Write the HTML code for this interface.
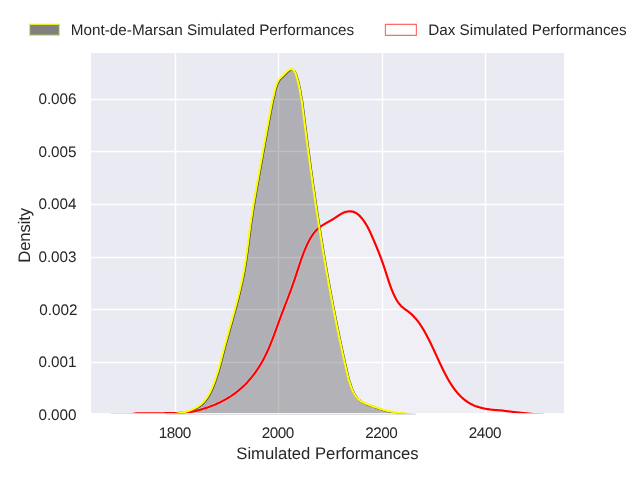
<!DOCTYPE html>
<html><head><meta charset="utf-8"><title>KDE</title>
<style>
html,body{margin:0;padding:0;background:#fff;}
body{width:640px;height:480px;overflow:hidden;}
svg{display:block;will-change:transform;}
text{font-family:"Liberation Sans",sans-serif;fill:#262626;text-rendering:geometricPrecision;}
.t11{font-size:15.28px;}
.t12{font-size:16.67px;}
</style></head>
<body>
<svg width="640" height="480" viewBox="0 0 640 480">
<defs>
<clipPath id="ax"><rect x="91" y="53" width="473" height="360"/></clipPath>
<clipPath id="axl"><rect x="91" y="53" width="473" height="360.15"/></clipPath>
</defs>
<rect x="0" y="0" width="640" height="480" fill="#ffffff"/>
<rect x="91" y="53" width="473" height="360" fill="#eaeaf2"/>
<g stroke="#ffffff" stroke-width="1.39"><line x1="175.5" y1="53" x2="175.5" y2="413"/><line x1="278.5" y1="53" x2="278.5" y2="413"/><line x1="382.5" y1="53" x2="382.5" y2="413"/><line x1="485.5" y1="53" x2="485.5" y2="413"/><line x1="91" y1="99.5" x2="564" y2="99.5"/><line x1="91" y1="151.5" x2="564" y2="151.5"/><line x1="91" y1="204.5" x2="564" y2="204.5"/><line x1="91" y1="257.5" x2="564" y2="257.5"/><line x1="91" y1="309.5" x2="564" y2="309.5"/><line x1="91" y1="362.5" x2="564" y2="362.5"/></g>
<line x1="166.3" y1="413.5" x2="416" y2="413.5" stroke="#f7f7ec" stroke-width="1"/>
<line x1="166.6" y1="414.45" x2="416" y2="414.45" stroke="#dedede" stroke-width="1"/>
<line x1="111" y1="413.5" x2="131" y2="413.5" stroke="#ffe0e0" stroke-width="1"/>
<line x1="528" y1="413.5" x2="544" y2="413.5" stroke="#ffe0e0" stroke-width="1"/>
<g clip-path="url(#ax)">
<path d="M111.00,414.90 L111.70,414.90 L112.40,414.90 L113.10,414.90 L113.80,414.90 L114.50,414.90 L115.20,414.90 L115.90,414.90 L116.60,414.90 L117.30,414.90 L118.00,414.90 L118.70,414.90 L119.40,414.90 L120.10,414.90 L120.80,414.90 L121.50,414.90 L122.20,414.89 L122.90,414.89 L123.60,414.89 L124.30,414.88 L125.00,414.87 L125.70,414.86 L126.40,414.85 L127.10,414.84 L127.80,414.83 L128.50,414.81 L129.20,414.79 L129.90,414.70 L130.58,414.54 L131.26,414.34 L131.93,414.15 L132.61,413.98 L133.29,413.85 L133.98,413.74 L134.67,413.63 L135.36,413.53 L136.06,413.46 L136.76,413.41 L137.45,413.39 L138.15,413.37 L138.85,413.36 L139.55,413.35 L140.25,413.34 L140.95,413.33 L141.65,413.32 L142.35,413.32 L143.05,413.31 L143.75,413.31 L144.45,413.30 L145.15,413.30 L145.85,413.30 L146.55,413.29 L147.25,413.29 L147.95,413.29 L148.65,413.28 L149.35,413.28 L150.05,413.28 L150.75,413.28 L151.45,413.28 L152.15,413.27 L152.85,413.27 L153.55,413.27 L154.25,413.27 L154.95,413.27 L155.65,413.27 L156.35,413.26 L157.05,413.26 L157.75,413.26 L158.45,413.26 L159.15,413.25 L159.85,413.25 L160.55,413.25 L161.25,413.24 L161.95,413.24 L162.65,413.24 L163.35,413.23 L164.05,413.23 L164.75,413.22 L165.45,413.22 L166.15,413.21 L166.85,413.21 L167.55,413.20 L168.25,413.19 L168.95,413.18 L169.65,413.18 L170.35,413.17 L171.05,413.16 L171.75,413.15 L172.45,413.14 L173.15,413.13 L173.85,413.12 L174.55,413.11 L175.25,413.10 L175.95,413.08 L176.65,413.05 L177.35,413.02 L178.05,412.99 L178.75,412.95 L179.45,412.91 L180.15,412.87 L180.85,412.82 L181.54,412.77 L182.24,412.72 L182.94,412.66 L183.64,412.61 L184.34,412.55 L185.03,412.50 L185.73,412.44 L186.43,412.38 L187.13,412.32 L187.82,412.26 L188.52,412.19 L189.22,412.11 L189.91,412.03 L190.61,411.95 L191.30,411.85 L192.00,411.75 L192.69,411.64 L193.37,411.48 L194.05,411.32 L194.74,411.17 L195.42,411.00 L196.10,410.84 L196.78,410.67 L197.46,410.50 L198.13,410.32 L198.81,410.14 L199.49,409.96 L200.16,409.77 L200.84,409.58 L201.51,409.39 L202.18,409.19 L202.85,408.99 L203.52,408.78 L204.19,408.57 L204.86,408.36 L205.52,408.14 L206.19,407.92 L206.85,407.70 L207.52,407.47 L208.18,407.24 L208.84,407.01 L209.50,406.77 L210.15,406.52 L210.81,406.28 L211.46,406.03 L212.12,405.77 L212.77,405.51 L213.42,405.25 L214.07,404.98 L214.71,404.71 L215.36,404.44 L216.00,404.16 L216.64,403.88 L217.28,403.59 L217.92,403.30 L218.55,403.00 L219.19,402.70 L219.82,402.40 L220.45,402.09 L221.08,401.78 L221.70,401.46 L222.33,401.14 L222.95,400.82 L223.57,400.49 L224.18,400.15 L224.80,399.82 L225.41,399.47 L226.02,399.13 L226.63,398.78 L227.23,398.42 L227.83,398.06 L228.43,397.70 L229.03,397.33 L229.62,396.95 L230.21,396.58 L230.80,396.19 L231.39,395.81 L231.97,395.41 L232.55,395.02 L233.12,394.62 L233.70,394.21 L234.27,393.80 L234.83,393.39 L235.40,392.97 L235.96,392.55 L236.51,392.12 L237.07,391.69 L237.62,391.25 L238.16,390.81 L238.70,390.36 L239.24,389.91 L239.78,389.46 L240.31,389.00 L240.84,388.53 L241.36,388.07 L241.88,387.59 L242.40,387.12 L242.91,386.64 L243.42,386.16 L243.93,385.67 L244.43,385.18 L244.93,384.68 L245.42,384.18 L245.91,383.68 L246.40,383.17 L246.88,382.66 L247.36,382.15 L247.84,381.63 L248.31,381.11 L248.78,380.59 L249.24,380.06 L249.70,379.53 L250.16,379.00 L250.61,378.46 L251.06,377.92 L251.51,377.38 L251.95,376.84 L252.39,376.29 L252.83,375.74 L253.26,375.18 L253.69,374.62 L254.11,374.06 L254.53,373.50 L254.95,372.93 L255.36,372.37 L255.77,371.79 L256.17,371.22 L256.58,370.64 L256.98,370.07 L257.37,369.48 L257.76,368.90 L258.15,368.31 L258.53,367.72 L258.91,367.13 L259.29,366.54 L259.66,365.94 L260.03,365.34 L260.39,364.74 L260.76,364.14 L261.11,363.54 L261.47,362.93 L261.82,362.32 L262.17,361.71 L262.51,361.09 L262.85,360.48 L263.19,359.86 L263.52,359.24 L263.85,358.62 L264.17,358.00 L264.49,357.37 L264.81,356.74 L265.13,356.12 L265.44,355.49 L265.75,354.85 L266.06,354.22 L266.36,353.59 L266.66,352.95 L266.96,352.31 L267.25,351.68 L267.54,351.04 L267.83,350.40 L268.12,349.76 L268.40,349.11 L268.68,348.47 L268.96,347.82 L269.24,347.18 L269.51,346.53 L269.78,345.88 L270.05,345.23 L270.32,344.59 L270.58,343.94 L270.85,343.28 L271.11,342.63 L271.37,341.98 L271.63,341.33 L271.88,340.68 L272.14,340.02 L272.39,339.37 L272.64,338.71 L272.89,338.06 L273.14,337.40 L273.39,336.75 L273.64,336.09 L273.88,335.43 L274.13,334.77 L274.37,334.12 L274.61,333.46 L274.85,332.80 L275.10,332.14 L275.34,331.49 L275.58,330.83 L275.82,330.17 L276.05,329.51 L276.29,328.85 L276.53,328.19 L276.77,327.54 L277.01,326.88 L277.24,326.22 L277.48,325.56 L277.72,324.90 L277.96,324.24 L278.20,323.59 L278.43,322.93 L278.67,322.27 L278.91,321.61 L279.15,320.96 L279.39,320.30 L279.63,319.64 L279.87,318.99 L280.12,318.33 L280.36,317.68 L280.60,317.02 L280.85,316.36 L281.09,315.71 L281.34,315.06 L281.59,314.40 L281.83,313.75 L282.08,313.09 L282.33,312.44 L282.58,311.78 L282.83,311.13 L283.08,310.48 L283.33,309.82 L283.58,309.17 L283.83,308.52 L284.08,307.86 L284.33,307.21 L284.58,306.56 L284.83,305.90 L285.08,305.25 L285.33,304.60 L285.58,303.94 L285.83,303.29 L286.09,302.64 L286.34,301.98 L286.59,301.33 L286.84,300.68 L287.09,300.02 L287.34,299.37 L287.59,298.71 L287.84,298.06 L288.09,297.41 L288.34,296.75 L288.59,296.10 L288.84,295.44 L289.08,294.79 L289.33,294.13 L289.58,293.47 L289.82,292.82 L290.07,292.16 L290.31,291.50 L290.56,290.85 L290.80,290.19 L291.04,289.53 L291.28,288.87 L291.52,288.21 L291.76,287.56 L292.00,286.90 L292.24,286.24 L292.47,285.58 L292.71,284.92 L292.94,284.25 L293.18,283.59 L293.41,282.93 L293.64,282.27 L293.87,281.60 L294.09,280.94 L294.32,280.28 L294.55,279.61 L294.77,278.95 L294.99,278.28 L295.21,277.62 L295.43,276.95 L295.65,276.29 L295.87,275.62 L296.09,274.95 L296.31,274.29 L296.52,273.62 L296.74,272.95 L296.95,272.29 L297.17,271.62 L297.39,270.96 L297.60,270.29 L297.82,269.62 L298.03,268.96 L298.25,268.29 L298.47,267.63 L298.68,266.96 L298.90,266.30 L299.12,265.64 L299.34,264.97 L299.56,264.31 L299.78,263.65 L300.00,262.98 L300.22,262.32 L300.45,261.66 L300.67,261.00 L300.90,260.34 L301.13,259.68 L301.36,259.02 L301.59,258.36 L301.83,257.70 L302.06,257.05 L302.30,256.39 L302.54,255.74 L302.78,255.08 L303.03,254.43 L303.27,253.78 L303.52,253.13 L303.77,252.48 L304.03,251.83 L304.29,251.18 L304.55,250.53 L304.81,249.89 L305.08,249.25 L305.35,248.60 L305.62,247.96 L305.89,247.32 L306.17,246.68 L306.46,246.05 L306.74,245.41 L307.03,244.78 L307.33,244.15 L307.62,243.52 L307.93,242.90 L308.24,242.27 L308.55,241.65 L308.87,241.04 L309.20,240.42 L309.53,239.81 L309.87,239.21 L310.21,238.61 L310.56,238.01 L310.92,237.41 L311.29,236.82 L311.66,236.24 L312.04,235.66 L312.43,235.09 L312.83,234.52 L313.24,233.96 L313.66,233.41 L314.08,232.86 L314.52,232.32 L314.96,231.79 L315.42,231.27 L315.88,230.75 L316.36,230.25 L316.85,229.75 L317.34,229.27 L317.85,228.80 L318.37,228.34 L318.90,227.89 L319.43,227.45 L319.98,227.02 L320.54,226.61 L321.11,226.21 L321.68,225.81 L322.26,225.43 L322.85,225.05 L323.44,224.68 L324.04,224.32 L324.64,223.96 L325.24,223.61 L325.85,223.27 L326.46,222.92 L327.07,222.58 L327.68,222.24 L328.29,221.90 L328.90,221.56 L329.51,221.21 L330.12,220.87 L330.73,220.52 L331.34,220.17 L331.94,219.82 L332.55,219.46 L333.15,219.09 L333.74,218.72 L334.33,218.34 L334.92,217.95 L335.50,217.56 L336.08,217.17 L336.66,216.77 L337.24,216.38 L337.81,215.98 L338.39,215.59 L338.98,215.21 L339.56,214.83 L340.16,214.47 L340.75,214.11 L341.36,213.77 L341.97,213.44 L342.59,213.13 L343.23,212.84 L343.87,212.57 L344.52,212.32 L345.18,212.10 L345.84,211.90 L346.52,211.73 L347.20,211.59 L347.89,211.48 L348.58,211.40 L349.28,211.35 L349.98,211.34 L350.68,211.36 L351.38,211.43 L352.07,211.54 L352.76,211.68 L353.44,211.88 L354.11,212.11 L354.76,212.38 L355.40,212.70 L356.02,213.04 L356.62,213.41 L357.21,213.81 L357.77,214.23 L358.33,214.68 L358.87,215.14 L359.39,215.62 L359.90,216.12 L360.39,216.62 L360.87,217.14 L361.34,217.67 L361.80,218.21 L362.24,218.76 L362.68,219.32 L363.11,219.88 L363.52,220.45 L363.93,221.03 L364.33,221.61 L364.72,222.20 L365.11,222.79 L365.49,223.39 L365.86,223.99 L366.22,224.59 L366.58,225.20 L366.93,225.81 L367.27,226.43 L367.61,227.04 L367.94,227.67 L368.27,228.29 L368.59,228.92 L368.91,229.55 L369.22,230.18 L369.53,230.81 L369.83,231.45 L370.13,232.09 L370.42,232.73 L370.71,233.37 L371.00,234.01 L371.29,234.65 L371.57,235.29 L371.85,235.93 L372.13,236.58 L372.41,237.22 L372.69,237.86 L372.97,238.50 L373.25,239.15 L373.52,239.79 L373.80,240.43 L374.07,241.08 L374.35,241.72 L374.62,242.37 L374.90,243.01 L375.17,243.66 L375.44,244.30 L375.71,244.95 L375.98,245.60 L376.25,246.25 L376.52,246.89 L376.79,247.54 L377.05,248.19 L377.32,248.84 L377.58,249.49 L377.85,250.14 L378.11,250.79 L378.37,251.44 L378.63,252.09 L378.89,252.74 L379.15,253.40 L379.40,254.05 L379.66,254.70 L379.91,255.36 L380.16,256.01 L380.41,256.67 L380.66,257.32 L380.91,257.98 L381.15,258.64 L381.40,259.29 L381.64,259.95 L381.88,260.61 L382.12,261.27 L382.36,261.93 L382.59,262.59 L382.83,263.26 L383.06,263.92 L383.29,264.58 L383.52,265.25 L383.75,265.91 L383.97,266.58 L384.20,267.24 L384.42,267.91 L384.64,268.58 L384.85,269.24 L385.07,269.91 L385.29,270.58 L385.50,271.24 L385.71,271.91 L385.93,272.58 L386.14,273.25 L386.35,273.92 L386.56,274.58 L386.77,275.25 L386.98,275.92 L387.20,276.58 L387.41,277.25 L387.62,277.91 L387.84,278.58 L388.05,279.24 L388.27,279.91 L388.49,280.57 L388.70,281.23 L388.93,281.90 L389.15,282.56 L389.37,283.22 L389.60,283.88 L389.83,284.53 L390.06,285.19 L390.30,285.85 L390.54,286.50 L390.78,287.15 L391.02,287.81 L391.27,288.46 L391.52,289.11 L391.77,289.75 L392.03,290.40 L392.30,291.04 L392.56,291.69 L392.83,292.33 L393.11,292.96 L393.39,293.60 L393.68,294.23 L393.97,294.87 L394.26,295.49 L394.56,296.12 L394.87,296.74 L395.18,297.36 L395.50,297.98 L395.83,298.59 L396.16,299.19 L396.51,299.79 L396.86,300.39 L397.23,300.98 L397.60,301.56 L397.99,302.13 L398.38,302.69 L398.79,303.25 L399.22,303.80 L399.65,304.33 L400.10,304.86 L400.56,305.37 L401.04,305.87 L401.53,306.35 L402.04,306.82 L402.56,307.28 L403.09,307.73 L403.63,308.16 L404.18,308.59 L404.74,309.01 L405.30,309.42 L405.87,309.83 L406.43,310.24 L407.00,310.65 L407.57,311.07 L408.13,311.48 L408.69,311.91 L409.25,312.34 L409.80,312.78 L410.34,313.23 L410.87,313.69 L411.40,314.16 L411.92,314.64 L412.43,315.12 L412.93,315.61 L413.43,316.11 L413.92,316.62 L414.40,317.13 L414.88,317.65 L415.35,318.18 L415.81,318.71 L416.26,319.25 L416.71,319.80 L417.15,320.34 L417.59,320.90 L418.01,321.46 L418.44,322.02 L418.85,322.59 L419.26,323.16 L419.67,323.74 L420.07,324.32 L420.46,324.90 L420.85,325.49 L421.24,326.08 L421.62,326.67 L421.99,327.26 L422.36,327.86 L422.73,328.46 L423.09,329.06 L423.45,329.67 L423.81,330.28 L424.16,330.88 L424.51,331.49 L424.85,332.11 L425.19,332.72 L425.53,333.33 L425.87,333.95 L426.20,334.57 L426.54,335.19 L426.87,335.81 L427.19,336.43 L427.52,337.05 L427.84,337.67 L428.16,338.30 L428.48,338.92 L428.80,339.55 L429.11,340.17 L429.43,340.80 L429.74,341.43 L430.05,342.06 L430.36,342.69 L430.67,343.32 L430.97,343.95 L431.28,344.58 L431.58,345.21 L431.88,345.85 L432.18,346.48 L432.48,347.11 L432.78,347.75 L433.08,348.38 L433.38,349.02 L433.67,349.65 L433.97,350.29 L434.26,350.92 L434.56,351.56 L434.85,352.20 L435.14,352.83 L435.44,353.47 L435.73,354.10 L436.02,354.74 L436.31,355.38 L436.61,356.01 L436.90,356.65 L437.19,357.28 L437.48,357.92 L437.78,358.56 L438.07,359.19 L438.36,359.83 L438.66,360.46 L438.95,361.10 L439.24,361.73 L439.54,362.36 L439.84,363.00 L440.13,363.63 L440.43,364.26 L440.73,364.89 L441.03,365.53 L441.33,366.16 L441.63,366.79 L441.93,367.42 L442.24,368.05 L442.54,368.68 L442.85,369.30 L443.16,369.93 L443.47,370.56 L443.78,371.18 L444.09,371.81 L444.41,372.43 L444.72,373.05 L445.04,373.67 L445.36,374.29 L445.69,374.91 L446.01,375.53 L446.34,376.14 L446.67,376.75 L447.01,377.37 L447.34,377.98 L447.68,378.59 L448.03,379.19 L448.37,379.80 L448.72,380.40 L449.08,381.00 L449.43,381.60 L449.79,382.20 L450.16,382.79 L450.52,383.38 L450.90,383.97 L451.27,384.56 L451.65,385.14 L452.04,385.72 L452.43,386.30 L452.82,386.88 L453.22,387.45 L453.62,388.02 L454.03,388.58 L454.44,389.14 L454.86,389.70 L455.28,390.25 L455.71,390.80 L456.15,391.34 L456.59,391.88 L457.03,392.41 L457.49,392.94 L457.94,393.47 L458.41,393.99 L458.88,394.50 L459.35,395.01 L459.83,395.51 L460.32,396.00 L460.82,396.49 L461.32,396.98 L461.83,397.45 L462.34,397.92 L462.86,398.38 L463.39,398.83 L463.93,399.28 L464.47,399.72 L465.02,400.15 L465.57,400.57 L466.13,400.98 L466.70,401.38 L467.28,401.77 L467.86,402.16 L468.45,402.53 L469.04,402.89 L469.64,403.25 L470.25,403.59 L470.86,403.92 L471.48,404.24 L472.10,404.55 L472.73,404.85 L473.37,405.14 L474.01,405.41 L474.66,405.68 L475.30,405.94 L475.96,406.18 L476.62,406.42 L477.28,406.64 L477.94,406.86 L478.61,407.07 L479.28,407.27 L479.95,407.46 L480.62,407.64 L481.30,407.82 L481.98,407.99 L482.66,408.15 L483.34,408.30 L484.02,408.45 L484.71,408.59 L485.40,408.72 L486.08,408.85 L486.77,408.97 L487.46,409.08 L488.15,409.19 L488.85,409.29 L489.54,409.39 L490.23,409.48 L490.93,409.57 L491.62,409.65 L492.32,409.73 L493.01,409.80 L493.71,409.87 L494.41,409.94 L495.10,410.00 L495.80,410.05 L496.50,410.10 L497.20,410.15 L497.90,410.20 L498.59,410.24 L499.29,410.28 L499.99,410.32 L500.69,410.37 L501.39,410.43 L502.08,410.51 L502.78,410.60 L503.47,410.69 L504.17,410.79 L504.86,410.89 L505.55,410.99 L506.25,411.09 L506.94,411.18 L507.63,411.27 L508.33,411.35 L509.02,411.43 L509.72,411.51 L510.42,411.58 L511.11,411.66 L511.81,411.74 L512.50,411.82 L513.20,411.90 L513.89,411.97 L514.59,412.05 L515.28,412.13 L515.98,412.22 L516.67,412.30 L517.37,412.38 L518.07,412.46 L518.76,412.54 L519.46,412.62 L520.15,412.69 L520.85,412.76 L521.54,412.83 L522.24,412.91 L522.94,412.98 L523.63,413.05 L524.33,413.12 L525.03,413.18 L525.72,413.25 L526.42,413.32 L527.12,413.39 L527.81,413.46 L528.51,413.53 L529.21,413.60 L529.90,413.67 L530.60,413.74 L531.30,413.82 L531.99,413.89 L532.69,413.97 L533.38,414.04 L534.08,414.12 L534.78,414.19 L535.47,414.26 L536.17,414.33 L536.87,414.39 L537.56,414.45 L538.26,414.50 L538.96,414.56 L539.66,414.61 L540.35,414.66 L541.05,414.71 L541.75,414.76 L542.45,414.81 L543.15,414.85 L543.85,414.89 L544.00,414.90 L544.00,414.9 L111.00,414.9 Z" fill="#ffffff" fill-opacity="0.25"/>
<path d="M166.90,414.90 L167.60,414.84 L168.30,414.78 L168.99,414.72 L169.69,414.64 L170.39,414.57 L171.08,414.48 L171.78,414.40 L172.47,414.31 L173.16,414.22 L173.86,414.12 L174.55,414.02 L175.24,413.91 L175.93,413.79 L176.62,413.67 L177.31,413.54 L178.00,413.41 L178.69,413.27 L179.37,413.13 L180.06,412.99 L180.74,412.84 L181.43,412.69 L182.11,412.54 L182.79,412.38 L183.47,412.21 L184.15,412.05 L184.83,411.89 L185.52,411.73 L186.20,411.55 L186.87,411.37 L187.55,411.18 L188.22,410.98 L188.89,410.76 L189.55,410.54 L190.21,410.31 L190.87,410.06 L191.53,409.81 L192.18,409.54 L192.82,409.27 L193.46,408.98 L194.10,408.68 L194.73,408.37 L195.36,408.05 L195.98,407.72 L196.59,407.37 L197.20,407.02 L197.80,406.65 L198.39,406.27 L198.97,405.88 L199.55,405.47 L200.12,405.05 L200.67,404.62 L201.22,404.17 L201.76,403.71 L202.28,403.23 L202.79,402.74 L203.29,402.24 L203.78,401.73 L204.25,401.20 L204.71,400.66 L205.16,400.11 L205.60,399.56 L206.02,398.99 L206.44,398.41 L206.84,397.83 L207.23,397.24 L207.61,396.64 L207.98,396.04 L208.34,395.43 L208.69,394.82 L209.04,394.20 L209.37,393.57 L209.70,392.95 L210.02,392.32 L210.33,391.68 L210.63,391.05 L210.93,390.41 L211.23,389.77 L211.52,389.12 L211.80,388.48 L212.08,387.83 L212.36,387.18 L212.63,386.54 L212.90,385.88 L213.16,385.23 L213.42,384.58 L213.68,383.92 L213.93,383.26 L214.18,382.61 L214.42,381.95 L214.67,381.29 L214.91,380.62 L215.14,379.96 L215.37,379.30 L215.60,378.63 L215.83,377.97 L216.05,377.30 L216.27,376.63 L216.49,375.96 L216.71,375.29 L216.92,374.62 L217.13,373.95 L217.34,373.28 L217.55,372.61 L217.75,371.94 L217.95,371.26 L218.15,370.59 L218.35,369.91 L218.54,369.24 L218.74,368.56 L218.93,367.89 L219.12,367.21 L219.31,366.54 L219.49,365.86 L219.68,365.18 L219.86,364.51 L220.05,363.83 L220.23,363.15 L220.41,362.47 L220.59,361.80 L220.77,361.12 L220.95,360.44 L221.13,359.76 L221.31,359.09 L221.48,358.41 L221.66,357.73 L221.83,357.05 L222.01,356.37 L222.19,355.70 L222.36,355.02 L222.54,354.34 L222.71,353.66 L222.89,352.99 L223.07,352.31 L223.24,351.63 L223.42,350.96 L223.60,350.28 L223.78,349.60 L223.95,348.93 L224.13,348.25 L224.31,347.58 L224.49,346.90 L224.67,346.23 L224.86,345.55 L225.04,344.88 L225.22,344.20 L225.40,343.53 L225.59,342.85 L225.77,342.18 L225.96,341.50 L226.14,340.83 L226.33,340.15 L226.51,339.48 L226.70,338.80 L226.88,338.13 L227.07,337.45 L227.26,336.78 L227.44,336.11 L227.63,335.43 L227.82,334.76 L228.01,334.08 L228.19,333.41 L228.38,332.74 L228.57,332.06 L228.76,331.39 L228.95,330.71 L229.14,330.04 L229.33,329.37 L229.51,328.69 L229.70,328.02 L229.89,327.34 L230.08,326.67 L230.27,326.00 L230.46,325.32 L230.65,324.65 L230.84,323.97 L231.03,323.30 L231.22,322.63 L231.40,321.95 L231.59,321.28 L231.78,320.60 L231.97,319.93 L232.16,319.25 L232.35,318.58 L232.53,317.90 L232.72,317.23 L232.91,316.55 L233.09,315.88 L233.28,315.20 L233.47,314.53 L233.65,313.85 L233.84,313.18 L234.02,312.50 L234.21,311.83 L234.39,311.15 L234.58,310.48 L234.76,309.80 L234.95,309.12 L235.13,308.45 L235.31,307.77 L235.49,307.09 L235.67,306.42 L235.85,305.74 L236.03,305.06 L236.21,304.38 L236.39,303.71 L236.57,303.03 L236.75,302.35 L236.93,301.67 L237.10,300.99 L237.28,300.32 L237.45,299.64 L237.63,298.96 L237.80,298.28 L237.97,297.60 L238.15,296.92 L238.32,296.24 L238.49,295.56 L238.66,294.88 L238.83,294.20 L238.99,293.52 L239.16,292.84 L239.33,292.16 L239.49,291.47 L239.66,290.79 L239.82,290.11 L239.98,289.43 L240.14,288.74 L240.30,288.06 L240.46,287.38 L240.62,286.69 L240.78,286.01 L240.93,285.33 L241.09,284.64 L241.24,283.96 L241.39,283.27 L241.54,282.59 L241.69,281.90 L241.84,281.21 L241.99,280.53 L242.14,279.84 L242.28,279.15 L242.42,278.47 L242.57,277.78 L242.71,277.09 L242.85,276.40 L242.99,275.72 L243.12,275.03 L243.26,274.34 L243.39,273.65 L243.53,272.96 L243.66,272.27 L243.79,271.58 L243.91,270.89 L244.04,270.20 L244.17,269.50 L244.29,268.81 L244.41,268.12 L244.53,267.43 L244.65,266.74 L244.77,266.04 L244.88,265.35 L245.00,264.66 L245.11,263.96 L245.22,263.27 L245.33,262.58 L245.44,261.88 L245.55,261.19 L245.66,260.50 L245.76,259.80 L245.87,259.11 L245.97,258.41 L246.07,257.72 L246.17,257.03 L246.28,256.33 L246.37,255.64 L246.47,254.94 L246.57,254.25 L246.67,253.55 L246.76,252.86 L246.86,252.16 L246.95,251.47 L247.05,250.77 L247.14,250.08 L247.23,249.38 L247.33,248.69 L247.42,247.99 L247.51,247.30 L247.60,246.60 L247.69,245.91 L247.78,245.21 L247.87,244.52 L247.96,243.83 L248.05,243.13 L248.14,242.44 L248.23,241.74 L248.31,241.05 L248.40,240.35 L248.49,239.66 L248.58,238.96 L248.67,238.27 L248.76,237.57 L248.84,236.88 L248.93,236.19 L249.02,235.49 L249.11,234.80 L249.20,234.10 L249.29,233.41 L249.38,232.72 L249.47,232.02 L249.56,231.33 L249.65,230.64 L249.74,229.94 L249.83,229.25 L249.92,228.56 L250.02,227.86 L250.11,227.17 L250.20,226.48 L250.30,225.79 L250.39,225.09 L250.49,224.40 L250.58,223.71 L250.68,223.02 L250.78,222.33 L250.88,221.63 L250.98,220.94 L251.08,220.25 L251.18,219.56 L251.28,218.87 L251.38,218.18 L251.49,217.49 L251.59,216.80 L251.70,216.10 L251.80,215.41 L251.91,214.72 L252.01,214.03 L252.12,213.34 L252.23,212.65 L252.33,211.96 L252.44,211.27 L252.55,210.58 L252.66,209.89 L252.77,209.20 L252.88,208.51 L252.99,207.82 L253.11,207.13 L253.22,206.44 L253.33,205.75 L253.44,205.06 L253.56,204.37 L253.67,203.68 L253.79,202.99 L253.90,202.30 L254.02,201.61 L254.13,200.92 L254.25,200.23 L254.37,199.54 L254.48,198.85 L254.60,198.16 L254.72,197.47 L254.84,196.78 L254.95,196.09 L255.07,195.40 L255.19,194.71 L255.31,194.02 L255.43,193.34 L255.55,192.65 L255.67,191.96 L255.79,191.27 L255.91,190.58 L256.03,189.89 L256.15,189.20 L256.28,188.51 L256.40,187.82 L256.52,187.13 L256.64,186.44 L256.76,185.76 L256.89,185.07 L257.01,184.38 L257.13,183.69 L257.25,183.00 L257.38,182.31 L257.50,181.62 L257.62,180.93 L257.75,180.24 L257.87,179.56 L257.99,178.87 L258.12,178.18 L258.24,177.49 L258.36,176.80 L258.49,176.11 L258.61,175.42 L258.73,174.73 L258.86,174.04 L258.98,173.35 L259.11,172.67 L259.23,171.98 L259.35,171.29 L259.48,170.60 L259.60,169.91 L259.72,169.22 L259.85,168.53 L259.97,167.84 L260.10,167.15 L260.22,166.47 L260.34,165.78 L260.47,165.09 L260.59,164.40 L260.72,163.71 L260.84,163.02 L260.96,162.33 L261.09,161.64 L261.21,160.95 L261.34,160.27 L261.46,159.58 L261.59,158.89 L261.71,158.20 L261.83,157.51 L261.96,156.82 L262.08,156.13 L262.21,155.44 L262.33,154.76 L262.46,154.07 L262.58,153.38 L262.71,152.69 L262.83,152.00 L262.96,151.31 L263.08,150.62 L263.21,149.93 L263.33,149.25 L263.46,148.56 L263.58,147.87 L263.71,147.18 L263.83,146.49 L263.96,145.80 L264.08,145.11 L264.21,144.43 L264.33,143.74 L264.46,143.05 L264.58,142.36 L264.71,141.67 L264.83,140.98 L264.96,140.29 L265.09,139.61 L265.21,138.92 L265.34,138.23 L265.46,137.54 L265.59,136.85 L265.72,136.16 L265.84,135.47 L265.97,134.79 L266.09,134.10 L266.22,133.41 L266.35,132.72 L266.47,132.03 L266.60,131.34 L266.73,130.66 L266.85,129.97 L266.98,129.28 L267.11,128.59 L267.23,127.90 L267.36,127.21 L267.49,126.53 L267.61,125.84 L267.74,125.15 L267.87,124.46 L268.00,123.77 L268.12,123.09 L268.25,122.40 L268.38,121.71 L268.51,121.02 L268.63,120.33 L268.76,119.64 L268.89,118.96 L269.02,118.27 L269.15,117.58 L269.28,116.89 L269.40,116.20 L269.53,115.52 L269.66,114.83 L269.79,114.14 L269.92,113.45 L270.05,112.77 L270.18,112.08 L270.30,111.39 L270.43,110.70 L270.56,110.01 L270.69,109.33 L270.82,108.64 L270.95,107.95 L271.08,107.26 L271.21,106.57 L271.34,105.89 L271.47,105.20 L271.60,104.51 L271.73,103.82 L271.86,103.14 L271.99,102.45 L272.12,101.76 L272.25,101.06 L272.38,100.43 L272.54,99.79 L272.73,99.16 L272.95,98.50 L273.17,97.80 L273.36,97.08 L273.52,96.38 L273.67,95.68 L273.82,94.99 L273.96,94.30 L274.10,93.62 L274.24,92.93 L274.38,92.25 L274.53,91.57 L274.68,90.90 L274.84,90.24 L275.01,89.58 L275.19,88.91 L275.38,88.24 L275.57,87.57 L275.76,86.91 L275.97,86.25 L276.18,85.60 L276.40,84.95 L276.63,84.31 L276.89,83.69 L277.16,83.05 L277.45,82.43 L277.74,81.81 L278.06,81.20 L278.39,80.60 L278.74,80.02 L279.11,79.46 L279.52,78.92 L279.96,78.40 L280.43,77.91 L280.93,77.43 L281.44,76.97 L281.96,76.50 L282.48,76.02 L282.98,75.52 L283.48,75.03 L283.98,74.54 L284.48,74.06 L284.99,73.57 L285.49,73.09 L286.00,72.61 L286.50,72.10 L286.98,71.59 L287.47,71.10 L287.97,70.63 L288.50,70.22 L289.09,69.88 L289.69,69.53 L290.31,69.25 L290.97,69.10 L291.67,69.18 L292.34,69.45 L292.97,69.81 L293.55,70.22 L294.07,70.83 L294.46,71.47 L294.81,72.10 L295.13,72.74 L295.43,73.39 L295.71,74.08 L295.95,74.76 L296.18,75.44 L296.39,76.12 L296.59,76.79 L296.80,77.46 L297.00,78.13 L297.20,78.81 L297.39,79.49 L297.58,80.18 L297.76,80.86 L297.94,81.54 L298.11,82.23 L298.28,82.91 L298.45,83.60 L298.61,84.29 L298.77,84.97 L298.92,85.66 L299.07,86.35 L299.21,87.04 L299.36,87.74 L299.50,88.43 L299.63,89.12 L299.76,89.81 L299.89,90.52 L300.01,91.22 L300.13,91.92 L300.24,92.61 L300.35,93.30 L300.45,93.99 L300.56,94.68 L300.68,95.36 L300.79,96.04 L300.92,96.71 L301.06,97.36 L301.23,98.01 L301.41,98.70 L301.57,99.42 L301.71,100.15 L301.83,100.95 L301.91,101.64 L302.00,102.33 L302.08,103.03 L302.17,103.72 L302.25,104.42 L302.34,105.11 L302.42,105.81 L302.51,106.50 L302.59,107.20 L302.68,107.89 L302.77,108.58 L302.85,109.28 L302.94,109.97 L303.02,110.67 L303.11,111.36 L303.20,112.06 L303.28,112.75 L303.37,113.45 L303.46,114.14 L303.54,114.83 L303.63,115.53 L303.72,116.22 L303.80,116.92 L303.89,117.61 L303.98,118.31 L304.07,119.00 L304.15,119.70 L304.24,120.39 L304.33,121.08 L304.42,121.78 L304.50,122.47 L304.59,123.17 L304.68,123.86 L304.77,124.56 L304.86,125.25 L304.95,125.94 L305.03,126.64 L305.12,127.33 L305.21,128.03 L305.30,128.72 L305.39,129.41 L305.48,130.11 L305.57,130.80 L305.66,131.50 L305.74,132.19 L305.83,132.89 L305.92,133.58 L306.01,134.27 L306.10,134.97 L306.19,135.66 L306.28,136.36 L306.37,137.05 L306.46,137.74 L306.55,138.44 L306.64,139.13 L306.73,139.83 L306.82,140.52 L306.91,141.21 L307.01,141.91 L307.10,142.60 L307.19,143.30 L307.28,143.99 L307.37,144.68 L307.46,145.38 L307.55,146.07 L307.64,146.76 L307.74,147.46 L307.83,148.15 L307.92,148.85 L308.01,149.54 L308.10,150.23 L308.20,150.93 L308.29,151.62 L308.38,152.31 L308.47,153.01 L308.57,153.70 L308.66,154.39 L308.75,155.09 L308.84,155.78 L308.94,156.48 L309.03,157.17 L309.12,157.86 L309.22,158.56 L309.31,159.25 L309.41,159.94 L309.50,160.64 L309.59,161.33 L309.69,162.02 L309.78,162.72 L309.88,163.41 L309.97,164.10 L310.07,164.80 L310.16,165.49 L310.26,166.18 L310.35,166.88 L310.45,167.57 L310.54,168.26 L310.64,168.96 L310.73,169.65 L310.83,170.34 L310.92,171.04 L311.02,171.73 L311.12,172.42 L311.21,173.12 L311.31,173.81 L311.41,174.50 L311.50,175.19 L311.60,175.89 L311.70,176.58 L311.79,177.27 L311.89,177.97 L311.99,178.66 L312.09,179.35 L312.18,180.04 L312.28,180.74 L312.38,181.43 L312.48,182.12 L312.58,182.82 L312.67,183.51 L312.77,184.20 L312.87,184.89 L312.97,185.59 L313.07,186.28 L313.17,186.97 L313.27,187.67 L313.37,188.36 L313.47,189.05 L313.57,189.74 L313.67,190.44 L313.77,191.13 L313.87,191.82 L313.97,192.51 L314.07,193.21 L314.17,193.90 L314.27,194.59 L314.37,195.28 L314.47,195.98 L314.57,196.67 L314.67,197.36 L314.78,198.05 L314.88,198.74 L314.98,199.44 L315.08,200.13 L315.18,200.82 L315.29,201.51 L315.39,202.21 L315.49,202.90 L315.59,203.59 L315.70,204.28 L315.80,204.97 L315.90,205.67 L316.01,206.36 L316.11,207.05 L316.21,207.74 L316.32,208.43 L316.42,209.13 L316.53,209.82 L316.63,210.51 L316.73,211.20 L316.84,211.89 L316.94,212.59 L317.05,213.28 L317.15,213.97 L317.26,214.66 L317.37,215.35 L317.47,216.04 L317.58,216.74 L317.68,217.43 L317.79,218.12 L317.90,218.81 L318.00,219.50 L318.11,220.19 L318.22,220.89 L318.32,221.58 L318.43,222.27 L318.54,222.96 L318.65,223.65 L318.75,224.34 L318.86,225.03 L318.97,225.72 L319.08,226.42 L319.19,227.11 L319.30,227.80 L319.40,228.49 L319.51,229.18 L319.62,229.87 L319.73,230.56 L319.84,231.25 L319.95,231.95 L320.06,232.64 L320.17,233.33 L320.28,234.02 L320.39,234.71 L320.50,235.40 L320.61,236.09 L320.72,236.78 L320.84,237.47 L320.95,238.16 L321.06,238.85 L321.17,239.54 L321.28,240.24 L321.40,240.93 L321.51,241.62 L321.62,242.31 L321.73,243.00 L321.85,243.69 L321.96,244.38 L322.07,245.07 L322.19,245.76 L322.30,246.45 L322.41,247.14 L322.53,247.83 L322.64,248.52 L322.76,249.21 L322.87,249.90 L322.99,250.59 L323.10,251.28 L323.22,251.97 L323.33,252.66 L323.45,253.35 L323.56,254.04 L323.68,254.73 L323.79,255.42 L323.91,256.11 L324.03,256.80 L324.14,257.49 L324.26,258.18 L324.38,258.87 L324.50,259.56 L324.61,260.25 L324.73,260.94 L324.85,261.63 L324.97,262.32 L325.09,263.01 L325.20,263.70 L325.32,264.39 L325.44,265.08 L325.56,265.77 L325.68,266.46 L325.80,267.15 L325.92,267.83 L326.04,268.52 L326.16,269.21 L326.28,269.90 L326.40,270.59 L326.52,271.28 L326.64,271.97 L326.77,272.66 L326.89,273.35 L327.01,274.04 L327.13,274.73 L327.25,275.41 L327.38,276.10 L327.50,276.79 L327.62,277.48 L327.74,278.17 L327.87,278.86 L327.99,279.55 L328.11,280.24 L328.24,280.92 L328.36,281.61 L328.49,282.30 L328.61,282.99 L328.74,283.68 L328.86,284.37 L328.99,285.05 L329.11,285.74 L329.24,286.43 L329.36,287.12 L329.49,287.81 L329.62,288.50 L329.74,289.18 L329.87,289.87 L330.00,290.56 L330.12,291.25 L330.25,291.94 L330.38,292.62 L330.51,293.31 L330.63,294.00 L330.76,294.69 L330.89,295.37 L331.02,296.06 L331.15,296.75 L331.28,297.44 L331.41,298.12 L331.54,298.81 L331.67,299.50 L331.80,300.19 L331.93,300.87 L332.06,301.56 L332.19,302.25 L332.32,302.94 L332.45,303.62 L332.58,304.31 L332.72,305.00 L332.85,305.68 L332.98,306.37 L333.11,307.06 L333.25,307.75 L333.38,308.43 L333.51,309.12 L333.65,309.81 L333.78,310.49 L333.91,311.18 L334.05,311.87 L334.18,312.55 L334.32,313.24 L334.45,313.93 L334.59,314.61 L334.72,315.30 L334.86,315.98 L334.99,316.67 L335.13,317.36 L335.27,318.04 L335.40,318.73 L335.54,319.42 L335.68,320.10 L335.81,320.79 L335.95,321.47 L336.09,322.16 L336.23,322.85 L336.37,323.53 L336.51,324.22 L336.64,324.90 L336.78,325.59 L336.92,326.27 L337.06,326.96 L337.20,327.64 L337.34,328.33 L337.48,329.02 L337.62,329.70 L337.76,330.39 L337.91,331.07 L338.05,331.76 L338.19,332.44 L338.33,333.13 L338.47,333.81 L338.62,334.50 L338.76,335.18 L338.90,335.87 L339.04,336.55 L339.19,337.24 L339.33,337.92 L339.48,338.60 L339.62,339.29 L339.76,339.97 L339.91,340.66 L340.05,341.34 L340.20,342.03 L340.35,342.71 L340.49,343.39 L340.64,344.08 L340.78,344.76 L340.93,345.45 L341.08,346.13 L341.23,346.82 L341.37,347.50 L341.52,348.18 L341.67,348.87 L341.82,349.55 L341.97,350.23 L342.11,350.92 L342.26,351.60 L342.41,352.28 L342.56,352.97 L342.71,353.65 L342.86,354.33 L343.01,355.02 L343.16,355.70 L343.31,356.38 L343.47,357.07 L343.62,357.75 L343.77,358.43 L343.92,359.12 L344.07,359.80 L344.23,360.48 L344.38,361.16 L344.53,361.85 L344.69,362.53 L344.84,363.21 L344.99,363.89 L345.15,364.58 L345.30,365.26 L345.46,365.94 L345.61,366.62 L345.77,367.30 L345.92,367.99 L346.08,368.67 L346.24,369.35 L346.39,370.03 L346.55,370.71 L346.71,371.40 L346.86,372.08 L347.02,372.76 L347.18,373.44 L347.34,374.12 L347.50,374.80 L347.66,375.48 L347.82,376.17 L347.98,376.85 L348.13,377.52 L348.31,378.18 L348.50,378.84 L348.69,379.51 L348.90,380.17 L349.11,380.83 L349.32,381.48 L349.55,382.14 L349.77,382.80 L350.00,383.47 L350.22,384.13 L350.44,384.80 L350.66,385.46 L350.88,386.12 L351.11,386.77 L351.35,387.42 L351.59,388.07 L351.84,388.72 L352.09,389.36 L352.36,390.00 L352.63,390.63 L352.92,391.26 L353.22,391.88 L353.52,392.49 L353.84,393.10 L354.18,393.71 L354.52,394.30 L354.88,394.89 L355.26,395.46 L355.65,396.03 L356.06,396.58 L356.48,397.12 L356.92,397.65 L357.38,398.16 L357.86,398.66 L358.35,399.14 L358.87,399.60 L359.40,400.04 L359.94,400.47 L360.50,400.88 L361.07,401.26 L361.66,401.63 L362.26,401.98 L362.87,402.31 L363.49,402.63 L364.12,402.94 L364.75,403.23 L365.39,403.51 L366.03,403.78 L366.68,404.04 L367.33,404.29 L367.99,404.53 L368.64,404.78 L369.30,405.01 L369.96,405.25 L370.62,405.49 L371.28,405.72 L371.94,405.96 L372.60,406.19 L373.25,406.43 L373.91,406.66 L374.57,406.90 L375.23,407.13 L375.89,407.36 L376.56,407.59 L377.22,407.82 L377.88,408.04 L378.54,408.26 L379.21,408.48 L379.87,408.70 L380.54,408.91 L381.21,409.12 L381.87,409.33 L382.54,409.53 L383.22,409.73 L383.89,409.92 L384.56,410.10 L385.24,410.28 L385.91,410.46 L386.59,410.63 L387.27,410.79 L387.95,410.95 L388.64,411.10 L389.32,411.24 L390.01,411.38 L390.69,411.51 L391.38,411.63 L392.07,411.74 L392.77,411.84 L393.46,411.95 L394.15,412.07 L394.84,412.20 L395.53,412.33 L396.21,412.46 L396.90,412.60 L397.59,412.72 L398.28,412.83 L398.97,412.93 L399.66,413.02 L400.36,413.10 L401.05,413.18 L401.75,413.25 L402.45,413.32 L403.14,413.39 L403.84,413.45 L404.54,413.52 L405.23,413.58 L405.93,413.65 L406.63,413.71 L407.32,413.77 L408.02,413.84 L408.72,413.91 L409.41,413.98 L410.11,414.05 L410.81,414.11 L411.51,414.18 L412.20,414.25 L412.90,414.32 L413.60,414.38 L414.29,414.45 L414.99,414.51 L415.69,414.58 L415.90,414.60 L415.90,414.9 L166.90,414.9 Z" fill="#000000" fill-opacity="0.25"/>
</g>
<g clip-path="url(#axl)">
<path d="M111.00,414.90 L111.70,414.90 L112.40,414.90 L113.10,414.90 L113.80,414.90 L114.50,414.90 L115.20,414.90 L115.90,414.90 L116.60,414.90 L117.30,414.90 L118.00,414.90 L118.70,414.90 L119.40,414.90 L120.10,414.90 L120.80,414.90 L121.50,414.90 L122.20,414.89 L122.90,414.89 L123.60,414.89 L124.30,414.88 L125.00,414.87 L125.70,414.86 L126.40,414.85 L127.10,414.84 L127.80,414.83 L128.50,414.81 L129.20,414.79 L129.90,414.70 L130.58,414.54 L131.26,414.34 L131.93,414.15 L132.61,413.98 L133.29,413.85 L133.98,413.74 L134.67,413.63 L135.36,413.53 L136.06,413.46 L136.76,413.41 L137.45,413.39 L138.15,413.37 L138.85,413.36 L139.55,413.35 L140.25,413.34 L140.95,413.33 L141.65,413.32 L142.35,413.32 L143.05,413.31 L143.75,413.31 L144.45,413.30 L145.15,413.30 L145.85,413.30 L146.55,413.29 L147.25,413.29 L147.95,413.29 L148.65,413.28 L149.35,413.28 L150.05,413.28 L150.75,413.28 L151.45,413.28 L152.15,413.27 L152.85,413.27 L153.55,413.27 L154.25,413.27 L154.95,413.27 L155.65,413.27 L156.35,413.26 L157.05,413.26 L157.75,413.26 L158.45,413.26 L159.15,413.25 L159.85,413.25 L160.55,413.25 L161.25,413.24 L161.95,413.24 L162.65,413.24 L163.35,413.23 L164.05,413.23 L164.75,413.22 L165.45,413.22 L166.15,413.21 L166.85,413.21 L167.55,413.20 L168.25,413.19 L168.95,413.18 L169.65,413.18 L170.35,413.17 L171.05,413.16 L171.75,413.15 L172.45,413.14 L173.15,413.13 L173.85,413.12 L174.55,413.11 L175.25,413.10 L175.95,413.08 L176.65,413.05 L177.35,413.02 L178.05,412.99 L178.75,412.95 L179.45,412.91 L180.15,412.87 L180.85,412.82 L181.54,412.77 L182.24,412.72 L182.94,412.66 L183.64,412.61 L184.34,412.55 L185.03,412.50 L185.73,412.44 L186.43,412.38 L187.13,412.32 L187.82,412.26 L188.52,412.19 L189.22,412.11 L189.91,412.03 L190.61,411.95 L191.30,411.85 L192.00,411.75 L192.69,411.64 L193.37,411.48 L194.05,411.32 L194.74,411.17 L195.42,411.00 L196.10,410.84 L196.78,410.67 L197.46,410.50 L198.13,410.32 L198.81,410.14 L199.49,409.96 L200.16,409.77 L200.84,409.58 L201.51,409.39 L202.18,409.19 L202.85,408.99 L203.52,408.78 L204.19,408.57 L204.86,408.36 L205.52,408.14 L206.19,407.92 L206.85,407.70 L207.52,407.47 L208.18,407.24 L208.84,407.01 L209.50,406.77 L210.15,406.52 L210.81,406.28 L211.46,406.03 L212.12,405.77 L212.77,405.51 L213.42,405.25 L214.07,404.98 L214.71,404.71 L215.36,404.44 L216.00,404.16 L216.64,403.88 L217.28,403.59 L217.92,403.30 L218.55,403.00 L219.19,402.70 L219.82,402.40 L220.45,402.09 L221.08,401.78 L221.70,401.46 L222.33,401.14 L222.95,400.82 L223.57,400.49 L224.18,400.15 L224.80,399.82 L225.41,399.47 L226.02,399.13 L226.63,398.78 L227.23,398.42 L227.83,398.06 L228.43,397.70 L229.03,397.33 L229.62,396.95 L230.21,396.58 L230.80,396.19 L231.39,395.81 L231.97,395.41 L232.55,395.02 L233.12,394.62 L233.70,394.21 L234.27,393.80 L234.83,393.39 L235.40,392.97 L235.96,392.55 L236.51,392.12 L237.07,391.69 L237.62,391.25 L238.16,390.81 L238.70,390.36 L239.24,389.91 L239.78,389.46 L240.31,389.00 L240.84,388.53 L241.36,388.07 L241.88,387.59 L242.40,387.12 L242.91,386.64 L243.42,386.16 L243.93,385.67 L244.43,385.18 L244.93,384.68 L245.42,384.18 L245.91,383.68 L246.40,383.17 L246.88,382.66 L247.36,382.15 L247.84,381.63 L248.31,381.11 L248.78,380.59 L249.24,380.06 L249.70,379.53 L250.16,379.00 L250.61,378.46 L251.06,377.92 L251.51,377.38 L251.95,376.84 L252.39,376.29 L252.83,375.74 L253.26,375.18 L253.69,374.62 L254.11,374.06 L254.53,373.50 L254.95,372.93 L255.36,372.37 L255.77,371.79 L256.17,371.22 L256.58,370.64 L256.98,370.07 L257.37,369.48 L257.76,368.90 L258.15,368.31 L258.53,367.72 L258.91,367.13 L259.29,366.54 L259.66,365.94 L260.03,365.34 L260.39,364.74 L260.76,364.14 L261.11,363.54 L261.47,362.93 L261.82,362.32 L262.17,361.71 L262.51,361.09 L262.85,360.48 L263.19,359.86 L263.52,359.24 L263.85,358.62 L264.17,358.00 L264.49,357.37 L264.81,356.74 L265.13,356.12 L265.44,355.49 L265.75,354.85 L266.06,354.22 L266.36,353.59 L266.66,352.95 L266.96,352.31 L267.25,351.68 L267.54,351.04 L267.83,350.40 L268.12,349.76 L268.40,349.11 L268.68,348.47 L268.96,347.82 L269.24,347.18 L269.51,346.53 L269.78,345.88 L270.05,345.23 L270.32,344.59 L270.58,343.94 L270.85,343.28 L271.11,342.63 L271.37,341.98 L271.63,341.33 L271.88,340.68 L272.14,340.02 L272.39,339.37 L272.64,338.71 L272.89,338.06 L273.14,337.40 L273.39,336.75 L273.64,336.09 L273.88,335.43 L274.13,334.77 L274.37,334.12 L274.61,333.46 L274.85,332.80 L275.10,332.14 L275.34,331.49 L275.58,330.83 L275.82,330.17 L276.05,329.51 L276.29,328.85 L276.53,328.19 L276.77,327.54 L277.01,326.88 L277.24,326.22 L277.48,325.56 L277.72,324.90 L277.96,324.24 L278.20,323.59 L278.43,322.93 L278.67,322.27 L278.91,321.61 L279.15,320.96 L279.39,320.30 L279.63,319.64 L279.87,318.99 L280.12,318.33 L280.36,317.68 L280.60,317.02 L280.85,316.36 L281.09,315.71 L281.34,315.06 L281.59,314.40 L281.83,313.75 L282.08,313.09 L282.33,312.44 L282.58,311.78 L282.83,311.13 L283.08,310.48 L283.33,309.82 L283.58,309.17 L283.83,308.52 L284.08,307.86 L284.33,307.21 L284.58,306.56 L284.83,305.90 L285.08,305.25 L285.33,304.60 L285.58,303.94 L285.83,303.29 L286.09,302.64 L286.34,301.98 L286.59,301.33 L286.84,300.68 L287.09,300.02 L287.34,299.37 L287.59,298.71 L287.84,298.06 L288.09,297.41 L288.34,296.75 L288.59,296.10 L288.84,295.44 L289.08,294.79 L289.33,294.13 L289.58,293.47 L289.82,292.82 L290.07,292.16 L290.31,291.50 L290.56,290.85 L290.80,290.19 L291.04,289.53 L291.28,288.87 L291.52,288.21 L291.76,287.56 L292.00,286.90 L292.24,286.24 L292.47,285.58 L292.71,284.92 L292.94,284.25 L293.18,283.59 L293.41,282.93 L293.64,282.27 L293.87,281.60 L294.09,280.94 L294.32,280.28 L294.55,279.61 L294.77,278.95 L294.99,278.28 L295.21,277.62 L295.43,276.95 L295.65,276.29 L295.87,275.62 L296.09,274.95 L296.31,274.29 L296.52,273.62 L296.74,272.95 L296.95,272.29 L297.17,271.62 L297.39,270.96 L297.60,270.29 L297.82,269.62 L298.03,268.96 L298.25,268.29 L298.47,267.63 L298.68,266.96 L298.90,266.30 L299.12,265.64 L299.34,264.97 L299.56,264.31 L299.78,263.65 L300.00,262.98 L300.22,262.32 L300.45,261.66 L300.67,261.00 L300.90,260.34 L301.13,259.68 L301.36,259.02 L301.59,258.36 L301.83,257.70 L302.06,257.05 L302.30,256.39 L302.54,255.74 L302.78,255.08 L303.03,254.43 L303.27,253.78 L303.52,253.13 L303.77,252.48 L304.03,251.83 L304.29,251.18 L304.55,250.53 L304.81,249.89 L305.08,249.25 L305.35,248.60 L305.62,247.96 L305.89,247.32 L306.17,246.68 L306.46,246.05 L306.74,245.41 L307.03,244.78 L307.33,244.15 L307.62,243.52 L307.93,242.90 L308.24,242.27 L308.55,241.65 L308.87,241.04 L309.20,240.42 L309.53,239.81 L309.87,239.21 L310.21,238.61 L310.56,238.01 L310.92,237.41 L311.29,236.82 L311.66,236.24 L312.04,235.66 L312.43,235.09 L312.83,234.52 L313.24,233.96 L313.66,233.41 L314.08,232.86 L314.52,232.32 L314.96,231.79 L315.42,231.27 L315.88,230.75 L316.36,230.25 L316.85,229.75 L317.34,229.27 L317.85,228.80 L318.37,228.34 L318.90,227.89 L319.43,227.45 L319.98,227.02 L320.54,226.61 L321.11,226.21 L321.68,225.81 L322.26,225.43 L322.85,225.05 L323.44,224.68 L324.04,224.32 L324.64,223.96 L325.24,223.61 L325.85,223.27 L326.46,222.92 L327.07,222.58 L327.68,222.24 L328.29,221.90 L328.90,221.56 L329.51,221.21 L330.12,220.87 L330.73,220.52 L331.34,220.17 L331.94,219.82 L332.55,219.46 L333.15,219.09 L333.74,218.72 L334.33,218.34 L334.92,217.95 L335.50,217.56 L336.08,217.17 L336.66,216.77 L337.24,216.38 L337.81,215.98 L338.39,215.59 L338.98,215.21 L339.56,214.83 L340.16,214.47 L340.75,214.11 L341.36,213.77 L341.97,213.44 L342.59,213.13 L343.23,212.84 L343.87,212.57 L344.52,212.32 L345.18,212.10 L345.84,211.90 L346.52,211.73 L347.20,211.59 L347.89,211.48 L348.58,211.40 L349.28,211.35 L349.98,211.34 L350.68,211.36 L351.38,211.43 L352.07,211.54 L352.76,211.68 L353.44,211.88 L354.11,212.11 L354.76,212.38 L355.40,212.70 L356.02,213.04 L356.62,213.41 L357.21,213.81 L357.77,214.23 L358.33,214.68 L358.87,215.14 L359.39,215.62 L359.90,216.12 L360.39,216.62 L360.87,217.14 L361.34,217.67 L361.80,218.21 L362.24,218.76 L362.68,219.32 L363.11,219.88 L363.52,220.45 L363.93,221.03 L364.33,221.61 L364.72,222.20 L365.11,222.79 L365.49,223.39 L365.86,223.99 L366.22,224.59 L366.58,225.20 L366.93,225.81 L367.27,226.43 L367.61,227.04 L367.94,227.67 L368.27,228.29 L368.59,228.92 L368.91,229.55 L369.22,230.18 L369.53,230.81 L369.83,231.45 L370.13,232.09 L370.42,232.73 L370.71,233.37 L371.00,234.01 L371.29,234.65 L371.57,235.29 L371.85,235.93 L372.13,236.58 L372.41,237.22 L372.69,237.86 L372.97,238.50 L373.25,239.15 L373.52,239.79 L373.80,240.43 L374.07,241.08 L374.35,241.72 L374.62,242.37 L374.90,243.01 L375.17,243.66 L375.44,244.30 L375.71,244.95 L375.98,245.60 L376.25,246.25 L376.52,246.89 L376.79,247.54 L377.05,248.19 L377.32,248.84 L377.58,249.49 L377.85,250.14 L378.11,250.79 L378.37,251.44 L378.63,252.09 L378.89,252.74 L379.15,253.40 L379.40,254.05 L379.66,254.70 L379.91,255.36 L380.16,256.01 L380.41,256.67 L380.66,257.32 L380.91,257.98 L381.15,258.64 L381.40,259.29 L381.64,259.95 L381.88,260.61 L382.12,261.27 L382.36,261.93 L382.59,262.59 L382.83,263.26 L383.06,263.92 L383.29,264.58 L383.52,265.25 L383.75,265.91 L383.97,266.58 L384.20,267.24 L384.42,267.91 L384.64,268.58 L384.85,269.24 L385.07,269.91 L385.29,270.58 L385.50,271.24 L385.71,271.91 L385.93,272.58 L386.14,273.25 L386.35,273.92 L386.56,274.58 L386.77,275.25 L386.98,275.92 L387.20,276.58 L387.41,277.25 L387.62,277.91 L387.84,278.58 L388.05,279.24 L388.27,279.91 L388.49,280.57 L388.70,281.23 L388.93,281.90 L389.15,282.56 L389.37,283.22 L389.60,283.88 L389.83,284.53 L390.06,285.19 L390.30,285.85 L390.54,286.50 L390.78,287.15 L391.02,287.81 L391.27,288.46 L391.52,289.11 L391.77,289.75 L392.03,290.40 L392.30,291.04 L392.56,291.69 L392.83,292.33 L393.11,292.96 L393.39,293.60 L393.68,294.23 L393.97,294.87 L394.26,295.49 L394.56,296.12 L394.87,296.74 L395.18,297.36 L395.50,297.98 L395.83,298.59 L396.16,299.19 L396.51,299.79 L396.86,300.39 L397.23,300.98 L397.60,301.56 L397.99,302.13 L398.38,302.69 L398.79,303.25 L399.22,303.80 L399.65,304.33 L400.10,304.86 L400.56,305.37 L401.04,305.87 L401.53,306.35 L402.04,306.82 L402.56,307.28 L403.09,307.73 L403.63,308.16 L404.18,308.59 L404.74,309.01 L405.30,309.42 L405.87,309.83 L406.43,310.24 L407.00,310.65 L407.57,311.07 L408.13,311.48 L408.69,311.91 L409.25,312.34 L409.80,312.78 L410.34,313.23 L410.87,313.69 L411.40,314.16 L411.92,314.64 L412.43,315.12 L412.93,315.61 L413.43,316.11 L413.92,316.62 L414.40,317.13 L414.88,317.65 L415.35,318.18 L415.81,318.71 L416.26,319.25 L416.71,319.80 L417.15,320.34 L417.59,320.90 L418.01,321.46 L418.44,322.02 L418.85,322.59 L419.26,323.16 L419.67,323.74 L420.07,324.32 L420.46,324.90 L420.85,325.49 L421.24,326.08 L421.62,326.67 L421.99,327.26 L422.36,327.86 L422.73,328.46 L423.09,329.06 L423.45,329.67 L423.81,330.28 L424.16,330.88 L424.51,331.49 L424.85,332.11 L425.19,332.72 L425.53,333.33 L425.87,333.95 L426.20,334.57 L426.54,335.19 L426.87,335.81 L427.19,336.43 L427.52,337.05 L427.84,337.67 L428.16,338.30 L428.48,338.92 L428.80,339.55 L429.11,340.17 L429.43,340.80 L429.74,341.43 L430.05,342.06 L430.36,342.69 L430.67,343.32 L430.97,343.95 L431.28,344.58 L431.58,345.21 L431.88,345.85 L432.18,346.48 L432.48,347.11 L432.78,347.75 L433.08,348.38 L433.38,349.02 L433.67,349.65 L433.97,350.29 L434.26,350.92 L434.56,351.56 L434.85,352.20 L435.14,352.83 L435.44,353.47 L435.73,354.10 L436.02,354.74 L436.31,355.38 L436.61,356.01 L436.90,356.65 L437.19,357.28 L437.48,357.92 L437.78,358.56 L438.07,359.19 L438.36,359.83 L438.66,360.46 L438.95,361.10 L439.24,361.73 L439.54,362.36 L439.84,363.00 L440.13,363.63 L440.43,364.26 L440.73,364.89 L441.03,365.53 L441.33,366.16 L441.63,366.79 L441.93,367.42 L442.24,368.05 L442.54,368.68 L442.85,369.30 L443.16,369.93 L443.47,370.56 L443.78,371.18 L444.09,371.81 L444.41,372.43 L444.72,373.05 L445.04,373.67 L445.36,374.29 L445.69,374.91 L446.01,375.53 L446.34,376.14 L446.67,376.75 L447.01,377.37 L447.34,377.98 L447.68,378.59 L448.03,379.19 L448.37,379.80 L448.72,380.40 L449.08,381.00 L449.43,381.60 L449.79,382.20 L450.16,382.79 L450.52,383.38 L450.90,383.97 L451.27,384.56 L451.65,385.14 L452.04,385.72 L452.43,386.30 L452.82,386.88 L453.22,387.45 L453.62,388.02 L454.03,388.58 L454.44,389.14 L454.86,389.70 L455.28,390.25 L455.71,390.80 L456.15,391.34 L456.59,391.88 L457.03,392.41 L457.49,392.94 L457.94,393.47 L458.41,393.99 L458.88,394.50 L459.35,395.01 L459.83,395.51 L460.32,396.00 L460.82,396.49 L461.32,396.98 L461.83,397.45 L462.34,397.92 L462.86,398.38 L463.39,398.83 L463.93,399.28 L464.47,399.72 L465.02,400.15 L465.57,400.57 L466.13,400.98 L466.70,401.38 L467.28,401.77 L467.86,402.16 L468.45,402.53 L469.04,402.89 L469.64,403.25 L470.25,403.59 L470.86,403.92 L471.48,404.24 L472.10,404.55 L472.73,404.85 L473.37,405.14 L474.01,405.41 L474.66,405.68 L475.30,405.94 L475.96,406.18 L476.62,406.42 L477.28,406.64 L477.94,406.86 L478.61,407.07 L479.28,407.27 L479.95,407.46 L480.62,407.64 L481.30,407.82 L481.98,407.99 L482.66,408.15 L483.34,408.30 L484.02,408.45 L484.71,408.59 L485.40,408.72 L486.08,408.85 L486.77,408.97 L487.46,409.08 L488.15,409.19 L488.85,409.29 L489.54,409.39 L490.23,409.48 L490.93,409.57 L491.62,409.65 L492.32,409.73 L493.01,409.80 L493.71,409.87 L494.41,409.94 L495.10,410.00 L495.80,410.05 L496.50,410.10 L497.20,410.15 L497.90,410.20 L498.59,410.24 L499.29,410.28 L499.99,410.32 L500.69,410.37 L501.39,410.43 L502.08,410.51 L502.78,410.60 L503.47,410.69 L504.17,410.79 L504.86,410.89 L505.55,410.99 L506.25,411.09 L506.94,411.18 L507.63,411.27 L508.33,411.35 L509.02,411.43 L509.72,411.51 L510.42,411.58 L511.11,411.66 L511.81,411.74 L512.50,411.82 L513.20,411.90 L513.89,411.97 L514.59,412.05 L515.28,412.13 L515.98,412.22 L516.67,412.30 L517.37,412.38 L518.07,412.46 L518.76,412.54 L519.46,412.62 L520.15,412.69 L520.85,412.76 L521.54,412.83 L522.24,412.91 L522.94,412.98 L523.63,413.05 L524.33,413.12 L525.03,413.18 L525.72,413.25 L526.42,413.32 L527.12,413.39 L527.81,413.46 L528.51,413.53 L529.21,413.60 L529.90,413.67 L530.60,413.74 L531.30,413.82 L531.99,413.89 L532.69,413.97 L533.38,414.04 L534.08,414.12 L534.78,414.19 L535.47,414.26 L536.17,414.33 L536.87,414.39 L537.56,414.45 L538.26,414.50 L538.96,414.56 L539.66,414.61 L540.35,414.66 L541.05,414.71 L541.75,414.76 L542.45,414.81 L543.15,414.85 L543.85,414.89 L544.00,414.90" fill="none" stroke="#ffffff" stroke-opacity="0.55" stroke-width="3.0" stroke-linejoin="round"/>
<path d="M166.90,414.90 L167.60,414.84 L168.30,414.78 L168.99,414.72 L169.69,414.64 L170.39,414.57 L171.08,414.48 L171.78,414.40 L172.47,414.31 L173.16,414.22 L173.86,414.12 L174.55,414.02 L175.24,413.91 L175.93,413.79 L176.62,413.67 L177.31,413.54 L178.00,413.41 L178.69,413.27 L179.37,413.13 L180.06,412.99 L180.74,412.84 L181.43,412.69 L182.11,412.54 L182.79,412.38 L183.47,412.21 L184.15,412.05 L184.83,411.89 L185.52,411.73 L186.20,411.55 L186.87,411.37 L187.55,411.18 L188.22,410.98 L188.89,410.76 L189.55,410.54 L190.21,410.31 L190.87,410.06 L191.53,409.81 L192.18,409.54 L192.82,409.27 L193.46,408.98 L194.10,408.68 L194.73,408.37 L195.36,408.05 L195.98,407.72 L196.59,407.37 L197.20,407.02 L197.80,406.65 L198.39,406.27 L198.97,405.88 L199.55,405.47 L200.12,405.05 L200.67,404.62 L201.22,404.17 L201.76,403.71 L202.28,403.23 L202.79,402.74 L203.29,402.24 L203.78,401.73 L204.25,401.20 L204.71,400.66 L205.16,400.11 L205.60,399.56 L206.02,398.99 L206.44,398.41 L206.84,397.83 L207.23,397.24 L207.61,396.64 L207.98,396.04 L208.34,395.43 L208.69,394.82 L209.04,394.20 L209.37,393.57 L209.70,392.95 L210.02,392.32 L210.33,391.68 L210.63,391.05 L210.93,390.41 L211.23,389.77 L211.52,389.12 L211.80,388.48 L212.08,387.83 L212.36,387.18 L212.63,386.54 L212.90,385.88 L213.16,385.23 L213.42,384.58 L213.68,383.92 L213.93,383.26 L214.18,382.61 L214.42,381.95 L214.67,381.29 L214.91,380.62 L215.14,379.96 L215.37,379.30 L215.60,378.63 L215.83,377.97 L216.05,377.30 L216.27,376.63 L216.49,375.96 L216.71,375.29 L216.92,374.62 L217.13,373.95 L217.34,373.28 L217.55,372.61 L217.75,371.94 L217.95,371.26 L218.15,370.59 L218.35,369.91 L218.54,369.24 L218.74,368.56 L218.93,367.89 L219.12,367.21 L219.31,366.54 L219.49,365.86 L219.68,365.18 L219.86,364.51 L220.05,363.83 L220.23,363.15 L220.41,362.47 L220.59,361.80 L220.77,361.12 L220.95,360.44 L221.13,359.76 L221.31,359.09 L221.48,358.41 L221.66,357.73 L221.83,357.05 L222.01,356.37 L222.19,355.70 L222.36,355.02 L222.54,354.34 L222.71,353.66 L222.89,352.99 L223.07,352.31 L223.24,351.63 L223.42,350.96 L223.60,350.28 L223.78,349.60 L223.95,348.93 L224.13,348.25 L224.31,347.58 L224.49,346.90 L224.67,346.23 L224.86,345.55 L225.04,344.88 L225.22,344.20 L225.40,343.53 L225.59,342.85 L225.77,342.18 L225.96,341.50 L226.14,340.83 L226.33,340.15 L226.51,339.48 L226.70,338.80 L226.88,338.13 L227.07,337.45 L227.26,336.78 L227.44,336.11 L227.63,335.43 L227.82,334.76 L228.01,334.08 L228.19,333.41 L228.38,332.74 L228.57,332.06 L228.76,331.39 L228.95,330.71 L229.14,330.04 L229.33,329.37 L229.51,328.69 L229.70,328.02 L229.89,327.34 L230.08,326.67 L230.27,326.00 L230.46,325.32 L230.65,324.65 L230.84,323.97 L231.03,323.30 L231.22,322.63 L231.40,321.95 L231.59,321.28 L231.78,320.60 L231.97,319.93 L232.16,319.25 L232.35,318.58 L232.53,317.90 L232.72,317.23 L232.91,316.55 L233.09,315.88 L233.28,315.20 L233.47,314.53 L233.65,313.85 L233.84,313.18 L234.02,312.50 L234.21,311.83 L234.39,311.15 L234.58,310.48 L234.76,309.80 L234.95,309.12 L235.13,308.45 L235.31,307.77 L235.49,307.09 L235.67,306.42 L235.85,305.74 L236.03,305.06 L236.21,304.38 L236.39,303.71 L236.57,303.03 L236.75,302.35 L236.93,301.67 L237.10,300.99 L237.28,300.32 L237.45,299.64 L237.63,298.96 L237.80,298.28 L237.97,297.60 L238.15,296.92 L238.32,296.24 L238.49,295.56 L238.66,294.88 L238.83,294.20 L238.99,293.52 L239.16,292.84 L239.33,292.16 L239.49,291.47 L239.66,290.79 L239.82,290.11 L239.98,289.43 L240.14,288.74 L240.30,288.06 L240.46,287.38 L240.62,286.69 L240.78,286.01 L240.93,285.33 L241.09,284.64 L241.24,283.96 L241.39,283.27 L241.54,282.59 L241.69,281.90 L241.84,281.21 L241.99,280.53 L242.14,279.84 L242.28,279.15 L242.42,278.47 L242.57,277.78 L242.71,277.09 L242.85,276.40 L242.99,275.72 L243.12,275.03 L243.26,274.34 L243.39,273.65 L243.53,272.96 L243.66,272.27 L243.79,271.58 L243.91,270.89 L244.04,270.20 L244.17,269.50 L244.29,268.81 L244.41,268.12 L244.53,267.43 L244.65,266.74 L244.77,266.04 L244.88,265.35 L245.00,264.66 L245.11,263.96 L245.22,263.27 L245.33,262.58 L245.44,261.88 L245.55,261.19 L245.66,260.50 L245.76,259.80 L245.87,259.11 L245.97,258.41 L246.07,257.72 L246.17,257.03 L246.28,256.33 L246.37,255.64 L246.47,254.94 L246.57,254.25 L246.67,253.55 L246.76,252.86 L246.86,252.16 L246.95,251.47 L247.05,250.77 L247.14,250.08 L247.23,249.38 L247.33,248.69 L247.42,247.99 L247.51,247.30 L247.60,246.60 L247.69,245.91 L247.78,245.21 L247.87,244.52 L247.96,243.83 L248.05,243.13 L248.14,242.44 L248.23,241.74 L248.31,241.05 L248.40,240.35 L248.49,239.66 L248.58,238.96 L248.67,238.27 L248.76,237.57 L248.84,236.88 L248.93,236.19 L249.02,235.49 L249.11,234.80 L249.20,234.10 L249.29,233.41 L249.38,232.72 L249.47,232.02 L249.56,231.33 L249.65,230.64 L249.74,229.94 L249.83,229.25 L249.92,228.56 L250.02,227.86 L250.11,227.17 L250.20,226.48 L250.30,225.79 L250.39,225.09 L250.49,224.40 L250.58,223.71 L250.68,223.02 L250.78,222.33 L250.88,221.63 L250.98,220.94 L251.08,220.25 L251.18,219.56 L251.28,218.87 L251.38,218.18 L251.49,217.49 L251.59,216.80 L251.70,216.10 L251.80,215.41 L251.91,214.72 L252.01,214.03 L252.12,213.34 L252.23,212.65 L252.33,211.96 L252.44,211.27 L252.55,210.58 L252.66,209.89 L252.77,209.20 L252.88,208.51 L252.99,207.82 L253.11,207.13 L253.22,206.44 L253.33,205.75 L253.44,205.06 L253.56,204.37 L253.67,203.68 L253.79,202.99 L253.90,202.30 L254.02,201.61 L254.13,200.92 L254.25,200.23 L254.37,199.54 L254.48,198.85 L254.60,198.16 L254.72,197.47 L254.84,196.78 L254.95,196.09 L255.07,195.40 L255.19,194.71 L255.31,194.02 L255.43,193.34 L255.55,192.65 L255.67,191.96 L255.79,191.27 L255.91,190.58 L256.03,189.89 L256.15,189.20 L256.28,188.51 L256.40,187.82 L256.52,187.13 L256.64,186.44 L256.76,185.76 L256.89,185.07 L257.01,184.38 L257.13,183.69 L257.25,183.00 L257.38,182.31 L257.50,181.62 L257.62,180.93 L257.75,180.24 L257.87,179.56 L257.99,178.87 L258.12,178.18 L258.24,177.49 L258.36,176.80 L258.49,176.11 L258.61,175.42 L258.73,174.73 L258.86,174.04 L258.98,173.35 L259.11,172.67 L259.23,171.98 L259.35,171.29 L259.48,170.60 L259.60,169.91 L259.72,169.22 L259.85,168.53 L259.97,167.84 L260.10,167.15 L260.22,166.47 L260.34,165.78 L260.47,165.09 L260.59,164.40 L260.72,163.71 L260.84,163.02 L260.96,162.33 L261.09,161.64 L261.21,160.95 L261.34,160.27 L261.46,159.58 L261.59,158.89 L261.71,158.20 L261.83,157.51 L261.96,156.82 L262.08,156.13 L262.21,155.44 L262.33,154.76 L262.46,154.07 L262.58,153.38 L262.71,152.69 L262.83,152.00 L262.96,151.31 L263.08,150.62 L263.21,149.93 L263.33,149.25 L263.46,148.56 L263.58,147.87 L263.71,147.18 L263.83,146.49 L263.96,145.80 L264.08,145.11 L264.21,144.43 L264.33,143.74 L264.46,143.05 L264.58,142.36 L264.71,141.67 L264.83,140.98 L264.96,140.29 L265.09,139.61 L265.21,138.92 L265.34,138.23 L265.46,137.54 L265.59,136.85 L265.72,136.16 L265.84,135.47 L265.97,134.79 L266.09,134.10 L266.22,133.41 L266.35,132.72 L266.47,132.03 L266.60,131.34 L266.73,130.66 L266.85,129.97 L266.98,129.28 L267.11,128.59 L267.23,127.90 L267.36,127.21 L267.49,126.53 L267.61,125.84 L267.74,125.15 L267.87,124.46 L268.00,123.77 L268.12,123.09 L268.25,122.40 L268.38,121.71 L268.51,121.02 L268.63,120.33 L268.76,119.64 L268.89,118.96 L269.02,118.27 L269.15,117.58 L269.28,116.89 L269.40,116.20 L269.53,115.52 L269.66,114.83 L269.79,114.14 L269.92,113.45 L270.05,112.77 L270.18,112.08 L270.30,111.39 L270.43,110.70 L270.56,110.01 L270.69,109.33 L270.82,108.64 L270.95,107.95 L271.08,107.26 L271.21,106.57 L271.34,105.89 L271.47,105.20 L271.60,104.51 L271.73,103.82 L271.86,103.14 L271.99,102.45 L272.12,101.76 L272.25,101.06 L272.38,100.43 L272.54,99.79 L272.73,99.16 L272.95,98.50 L273.17,97.80 L273.36,97.08 L273.52,96.38 L273.67,95.68 L273.82,94.99 L273.96,94.30 L274.10,93.62 L274.24,92.93 L274.38,92.25 L274.53,91.57 L274.68,90.90 L274.84,90.24 L275.01,89.58 L275.19,88.91 L275.38,88.24 L275.57,87.57 L275.76,86.91 L275.97,86.25 L276.18,85.60 L276.40,84.95 L276.63,84.31 L276.89,83.69 L277.16,83.05 L277.45,82.43 L277.74,81.81 L278.06,81.20 L278.39,80.60 L278.74,80.02 L279.11,79.46 L279.52,78.92 L279.96,78.40 L280.43,77.91 L280.93,77.43 L281.44,76.97 L281.96,76.50 L282.48,76.02 L282.98,75.52 L283.48,75.03 L283.98,74.54 L284.48,74.06 L284.99,73.57 L285.49,73.09 L286.00,72.61 L286.50,72.10 L286.98,71.59 L287.47,71.10 L287.97,70.63 L288.50,70.22 L289.09,69.88 L289.69,69.53 L290.31,69.25 L290.97,69.10 L291.67,69.18 L292.34,69.45 L292.97,69.81 L293.55,70.22 L294.07,70.83 L294.46,71.47 L294.81,72.10 L295.13,72.74 L295.43,73.39 L295.71,74.08 L295.95,74.76 L296.18,75.44 L296.39,76.12 L296.59,76.79 L296.80,77.46 L297.00,78.13 L297.20,78.81 L297.39,79.49 L297.58,80.18 L297.76,80.86 L297.94,81.54 L298.11,82.23 L298.28,82.91 L298.45,83.60 L298.61,84.29 L298.77,84.97 L298.92,85.66 L299.07,86.35 L299.21,87.04 L299.36,87.74 L299.50,88.43 L299.63,89.12 L299.76,89.81 L299.89,90.52 L300.01,91.22 L300.13,91.92 L300.24,92.61 L300.35,93.30 L300.45,93.99 L300.56,94.68 L300.68,95.36 L300.79,96.04 L300.92,96.71 L301.06,97.36 L301.23,98.01 L301.41,98.70 L301.57,99.42 L301.71,100.15 L301.83,100.95 L301.91,101.64 L302.00,102.33 L302.08,103.03 L302.17,103.72 L302.25,104.42 L302.34,105.11 L302.42,105.81 L302.51,106.50 L302.59,107.20 L302.68,107.89 L302.77,108.58 L302.85,109.28 L302.94,109.97 L303.02,110.67 L303.11,111.36 L303.20,112.06 L303.28,112.75 L303.37,113.45 L303.46,114.14 L303.54,114.83 L303.63,115.53 L303.72,116.22 L303.80,116.92 L303.89,117.61 L303.98,118.31 L304.07,119.00 L304.15,119.70 L304.24,120.39 L304.33,121.08 L304.42,121.78 L304.50,122.47 L304.59,123.17 L304.68,123.86 L304.77,124.56 L304.86,125.25 L304.95,125.94 L305.03,126.64 L305.12,127.33 L305.21,128.03 L305.30,128.72 L305.39,129.41 L305.48,130.11 L305.57,130.80 L305.66,131.50 L305.74,132.19 L305.83,132.89 L305.92,133.58 L306.01,134.27 L306.10,134.97 L306.19,135.66 L306.28,136.36 L306.37,137.05 L306.46,137.74 L306.55,138.44 L306.64,139.13 L306.73,139.83 L306.82,140.52 L306.91,141.21 L307.01,141.91 L307.10,142.60 L307.19,143.30 L307.28,143.99 L307.37,144.68 L307.46,145.38 L307.55,146.07 L307.64,146.76 L307.74,147.46 L307.83,148.15 L307.92,148.85 L308.01,149.54 L308.10,150.23 L308.20,150.93 L308.29,151.62 L308.38,152.31 L308.47,153.01 L308.57,153.70 L308.66,154.39 L308.75,155.09 L308.84,155.78 L308.94,156.48 L309.03,157.17 L309.12,157.86 L309.22,158.56 L309.31,159.25 L309.41,159.94 L309.50,160.64 L309.59,161.33 L309.69,162.02 L309.78,162.72 L309.88,163.41 L309.97,164.10 L310.07,164.80 L310.16,165.49 L310.26,166.18 L310.35,166.88 L310.45,167.57 L310.54,168.26 L310.64,168.96 L310.73,169.65 L310.83,170.34 L310.92,171.04 L311.02,171.73 L311.12,172.42 L311.21,173.12 L311.31,173.81 L311.41,174.50 L311.50,175.19 L311.60,175.89 L311.70,176.58 L311.79,177.27 L311.89,177.97 L311.99,178.66 L312.09,179.35 L312.18,180.04 L312.28,180.74 L312.38,181.43 L312.48,182.12 L312.58,182.82 L312.67,183.51 L312.77,184.20 L312.87,184.89 L312.97,185.59 L313.07,186.28 L313.17,186.97 L313.27,187.67 L313.37,188.36 L313.47,189.05 L313.57,189.74 L313.67,190.44 L313.77,191.13 L313.87,191.82 L313.97,192.51 L314.07,193.21 L314.17,193.90 L314.27,194.59 L314.37,195.28 L314.47,195.98 L314.57,196.67 L314.67,197.36 L314.78,198.05 L314.88,198.74 L314.98,199.44 L315.08,200.13 L315.18,200.82 L315.29,201.51 L315.39,202.21 L315.49,202.90 L315.59,203.59 L315.70,204.28 L315.80,204.97 L315.90,205.67 L316.01,206.36 L316.11,207.05 L316.21,207.74 L316.32,208.43 L316.42,209.13 L316.53,209.82 L316.63,210.51 L316.73,211.20 L316.84,211.89 L316.94,212.59 L317.05,213.28 L317.15,213.97 L317.26,214.66 L317.37,215.35 L317.47,216.04 L317.58,216.74 L317.68,217.43 L317.79,218.12 L317.90,218.81 L318.00,219.50 L318.11,220.19 L318.22,220.89 L318.32,221.58 L318.43,222.27 L318.54,222.96 L318.65,223.65 L318.75,224.34 L318.86,225.03 L318.97,225.72 L319.08,226.42 L319.19,227.11 L319.30,227.80 L319.40,228.49 L319.51,229.18 L319.62,229.87 L319.73,230.56 L319.84,231.25 L319.95,231.95 L320.06,232.64 L320.17,233.33 L320.28,234.02 L320.39,234.71 L320.50,235.40 L320.61,236.09 L320.72,236.78 L320.84,237.47 L320.95,238.16 L321.06,238.85 L321.17,239.54 L321.28,240.24 L321.40,240.93 L321.51,241.62 L321.62,242.31 L321.73,243.00 L321.85,243.69 L321.96,244.38 L322.07,245.07 L322.19,245.76 L322.30,246.45 L322.41,247.14 L322.53,247.83 L322.64,248.52 L322.76,249.21 L322.87,249.90 L322.99,250.59 L323.10,251.28 L323.22,251.97 L323.33,252.66 L323.45,253.35 L323.56,254.04 L323.68,254.73 L323.79,255.42 L323.91,256.11 L324.03,256.80 L324.14,257.49 L324.26,258.18 L324.38,258.87 L324.50,259.56 L324.61,260.25 L324.73,260.94 L324.85,261.63 L324.97,262.32 L325.09,263.01 L325.20,263.70 L325.32,264.39 L325.44,265.08 L325.56,265.77 L325.68,266.46 L325.80,267.15 L325.92,267.83 L326.04,268.52 L326.16,269.21 L326.28,269.90 L326.40,270.59 L326.52,271.28 L326.64,271.97 L326.77,272.66 L326.89,273.35 L327.01,274.04 L327.13,274.73 L327.25,275.41 L327.38,276.10 L327.50,276.79 L327.62,277.48 L327.74,278.17 L327.87,278.86 L327.99,279.55 L328.11,280.24 L328.24,280.92 L328.36,281.61 L328.49,282.30 L328.61,282.99 L328.74,283.68 L328.86,284.37 L328.99,285.05 L329.11,285.74 L329.24,286.43 L329.36,287.12 L329.49,287.81 L329.62,288.50 L329.74,289.18 L329.87,289.87 L330.00,290.56 L330.12,291.25 L330.25,291.94 L330.38,292.62 L330.51,293.31 L330.63,294.00 L330.76,294.69 L330.89,295.37 L331.02,296.06 L331.15,296.75 L331.28,297.44 L331.41,298.12 L331.54,298.81 L331.67,299.50 L331.80,300.19 L331.93,300.87 L332.06,301.56 L332.19,302.25 L332.32,302.94 L332.45,303.62 L332.58,304.31 L332.72,305.00 L332.85,305.68 L332.98,306.37 L333.11,307.06 L333.25,307.75 L333.38,308.43 L333.51,309.12 L333.65,309.81 L333.78,310.49 L333.91,311.18 L334.05,311.87 L334.18,312.55 L334.32,313.24 L334.45,313.93 L334.59,314.61 L334.72,315.30 L334.86,315.98 L334.99,316.67 L335.13,317.36 L335.27,318.04 L335.40,318.73 L335.54,319.42 L335.68,320.10 L335.81,320.79 L335.95,321.47 L336.09,322.16 L336.23,322.85 L336.37,323.53 L336.51,324.22 L336.64,324.90 L336.78,325.59 L336.92,326.27 L337.06,326.96 L337.20,327.64 L337.34,328.33 L337.48,329.02 L337.62,329.70 L337.76,330.39 L337.91,331.07 L338.05,331.76 L338.19,332.44 L338.33,333.13 L338.47,333.81 L338.62,334.50 L338.76,335.18 L338.90,335.87 L339.04,336.55 L339.19,337.24 L339.33,337.92 L339.48,338.60 L339.62,339.29 L339.76,339.97 L339.91,340.66 L340.05,341.34 L340.20,342.03 L340.35,342.71 L340.49,343.39 L340.64,344.08 L340.78,344.76 L340.93,345.45 L341.08,346.13 L341.23,346.82 L341.37,347.50 L341.52,348.18 L341.67,348.87 L341.82,349.55 L341.97,350.23 L342.11,350.92 L342.26,351.60 L342.41,352.28 L342.56,352.97 L342.71,353.65 L342.86,354.33 L343.01,355.02 L343.16,355.70 L343.31,356.38 L343.47,357.07 L343.62,357.75 L343.77,358.43 L343.92,359.12 L344.07,359.80 L344.23,360.48 L344.38,361.16 L344.53,361.85 L344.69,362.53 L344.84,363.21 L344.99,363.89 L345.15,364.58 L345.30,365.26 L345.46,365.94 L345.61,366.62 L345.77,367.30 L345.92,367.99 L346.08,368.67 L346.24,369.35 L346.39,370.03 L346.55,370.71 L346.71,371.40 L346.86,372.08 L347.02,372.76 L347.18,373.44 L347.34,374.12 L347.50,374.80 L347.66,375.48 L347.82,376.17 L347.98,376.85 L348.13,377.52 L348.31,378.18 L348.50,378.84 L348.69,379.51 L348.90,380.17 L349.11,380.83 L349.32,381.48 L349.55,382.14 L349.77,382.80 L350.00,383.47 L350.22,384.13 L350.44,384.80 L350.66,385.46 L350.88,386.12 L351.11,386.77 L351.35,387.42 L351.59,388.07 L351.84,388.72 L352.09,389.36 L352.36,390.00 L352.63,390.63 L352.92,391.26 L353.22,391.88 L353.52,392.49 L353.84,393.10 L354.18,393.71 L354.52,394.30 L354.88,394.89 L355.26,395.46 L355.65,396.03 L356.06,396.58 L356.48,397.12 L356.92,397.65 L357.38,398.16 L357.86,398.66 L358.35,399.14 L358.87,399.60 L359.40,400.04 L359.94,400.47 L360.50,400.88 L361.07,401.26 L361.66,401.63 L362.26,401.98 L362.87,402.31 L363.49,402.63 L364.12,402.94 L364.75,403.23 L365.39,403.51 L366.03,403.78 L366.68,404.04 L367.33,404.29 L367.99,404.53 L368.64,404.78 L369.30,405.01 L369.96,405.25 L370.62,405.49 L371.28,405.72 L371.94,405.96 L372.60,406.19 L373.25,406.43 L373.91,406.66 L374.57,406.90 L375.23,407.13 L375.89,407.36 L376.56,407.59 L377.22,407.82 L377.88,408.04 L378.54,408.26 L379.21,408.48 L379.87,408.70 L380.54,408.91 L381.21,409.12 L381.87,409.33 L382.54,409.53 L383.22,409.73 L383.89,409.92 L384.56,410.10 L385.24,410.28 L385.91,410.46 L386.59,410.63 L387.27,410.79 L387.95,410.95 L388.64,411.10 L389.32,411.24 L390.01,411.38 L390.69,411.51 L391.38,411.63 L392.07,411.74 L392.77,411.84 L393.46,411.95 L394.15,412.07 L394.84,412.20 L395.53,412.33 L396.21,412.46 L396.90,412.60 L397.59,412.72 L398.28,412.83 L398.97,412.93 L399.66,413.02 L400.36,413.10 L401.05,413.18 L401.75,413.25 L402.45,413.32 L403.14,413.39 L403.84,413.45 L404.54,413.52 L405.23,413.58 L405.93,413.65 L406.63,413.71 L407.32,413.77 L408.02,413.84 L408.72,413.91 L409.41,413.98 L410.11,414.05 L410.81,414.11 L411.51,414.18 L412.20,414.25 L412.90,414.32 L413.60,414.38 L414.29,414.45 L414.99,414.51 L415.69,414.58 L415.90,414.60" transform="translate(0.55,0.5)" fill="none" stroke="#2e2e26" stroke-width="1.9" stroke-linejoin="round"/>
<path d="M111.00,414.90 L111.70,414.90 L112.40,414.90 L113.10,414.90 L113.80,414.90 L114.50,414.90 L115.20,414.90 L115.90,414.90 L116.60,414.90 L117.30,414.90 L118.00,414.90 L118.70,414.90 L119.40,414.90 L120.10,414.90 L120.80,414.90 L121.50,414.90 L122.20,414.89 L122.90,414.89 L123.60,414.89 L124.30,414.88 L125.00,414.87 L125.70,414.86 L126.40,414.85 L127.10,414.84 L127.80,414.83 L128.50,414.81 L129.20,414.79 L129.90,414.70 L130.58,414.54 L131.26,414.34 L131.93,414.15 L132.61,413.98 L133.29,413.85 L133.98,413.74 L134.67,413.63 L135.36,413.53 L136.06,413.46 L136.76,413.41 L137.45,413.39 L138.15,413.37 L138.85,413.36 L139.55,413.35 L140.25,413.34 L140.95,413.33 L141.65,413.32 L142.35,413.32 L143.05,413.31 L143.75,413.31 L144.45,413.30 L145.15,413.30 L145.85,413.30 L146.55,413.29 L147.25,413.29 L147.95,413.29 L148.65,413.28 L149.35,413.28 L150.05,413.28 L150.75,413.28 L151.45,413.28 L152.15,413.27 L152.85,413.27 L153.55,413.27 L154.25,413.27 L154.95,413.27 L155.65,413.27 L156.35,413.26 L157.05,413.26 L157.75,413.26 L158.45,413.26 L159.15,413.25 L159.85,413.25 L160.55,413.25 L161.25,413.24 L161.95,413.24 L162.65,413.24 L163.35,413.23 L164.05,413.23 L164.75,413.22 L165.45,413.22 L166.15,413.21 L166.85,413.21 L167.55,413.20 L168.25,413.19 L168.95,413.18 L169.65,413.18 L170.35,413.17 L171.05,413.16 L171.75,413.15 L172.45,413.14 L173.15,413.13 L173.85,413.12 L174.55,413.11 L175.25,413.10 L175.95,413.08 L176.65,413.05 L177.35,413.02 L178.05,412.99 L178.75,412.95 L179.45,412.91 L180.15,412.87 L180.85,412.82 L181.54,412.77 L182.24,412.72 L182.94,412.66 L183.64,412.61 L184.34,412.55 L185.03,412.50 L185.73,412.44 L186.43,412.38 L187.13,412.32 L187.82,412.26 L188.52,412.19 L189.22,412.11 L189.91,412.03 L190.61,411.95 L191.30,411.85 L192.00,411.75 L192.69,411.64 L193.37,411.48 L194.05,411.32 L194.74,411.17 L195.42,411.00 L196.10,410.84 L196.78,410.67 L197.46,410.50 L198.13,410.32 L198.81,410.14 L199.49,409.96 L200.16,409.77 L200.84,409.58 L201.51,409.39 L202.18,409.19 L202.85,408.99 L203.52,408.78 L204.19,408.57 L204.86,408.36 L205.52,408.14 L206.19,407.92 L206.85,407.70 L207.52,407.47 L208.18,407.24 L208.84,407.01 L209.50,406.77 L210.15,406.52 L210.81,406.28 L211.46,406.03 L212.12,405.77 L212.77,405.51 L213.42,405.25 L214.07,404.98 L214.71,404.71 L215.36,404.44 L216.00,404.16 L216.64,403.88 L217.28,403.59 L217.92,403.30 L218.55,403.00 L219.19,402.70 L219.82,402.40 L220.45,402.09 L221.08,401.78 L221.70,401.46 L222.33,401.14 L222.95,400.82 L223.57,400.49 L224.18,400.15 L224.80,399.82 L225.41,399.47 L226.02,399.13 L226.63,398.78 L227.23,398.42 L227.83,398.06 L228.43,397.70 L229.03,397.33 L229.62,396.95 L230.21,396.58 L230.80,396.19 L231.39,395.81 L231.97,395.41 L232.55,395.02 L233.12,394.62 L233.70,394.21 L234.27,393.80 L234.83,393.39 L235.40,392.97 L235.96,392.55 L236.51,392.12 L237.07,391.69 L237.62,391.25 L238.16,390.81 L238.70,390.36 L239.24,389.91 L239.78,389.46 L240.31,389.00 L240.84,388.53 L241.36,388.07 L241.88,387.59 L242.40,387.12 L242.91,386.64 L243.42,386.16 L243.93,385.67 L244.43,385.18 L244.93,384.68 L245.42,384.18 L245.91,383.68 L246.40,383.17 L246.88,382.66 L247.36,382.15 L247.84,381.63 L248.31,381.11 L248.78,380.59 L249.24,380.06 L249.70,379.53 L250.16,379.00 L250.61,378.46 L251.06,377.92 L251.51,377.38 L251.95,376.84 L252.39,376.29 L252.83,375.74 L253.26,375.18 L253.69,374.62 L254.11,374.06 L254.53,373.50 L254.95,372.93 L255.36,372.37 L255.77,371.79 L256.17,371.22 L256.58,370.64 L256.98,370.07 L257.37,369.48 L257.76,368.90 L258.15,368.31 L258.53,367.72 L258.91,367.13 L259.29,366.54 L259.66,365.94 L260.03,365.34 L260.39,364.74 L260.76,364.14 L261.11,363.54 L261.47,362.93 L261.82,362.32 L262.17,361.71 L262.51,361.09 L262.85,360.48 L263.19,359.86 L263.52,359.24 L263.85,358.62 L264.17,358.00 L264.49,357.37 L264.81,356.74 L265.13,356.12 L265.44,355.49 L265.75,354.85 L266.06,354.22 L266.36,353.59 L266.66,352.95 L266.96,352.31 L267.25,351.68 L267.54,351.04 L267.83,350.40 L268.12,349.76 L268.40,349.11 L268.68,348.47 L268.96,347.82 L269.24,347.18 L269.51,346.53 L269.78,345.88 L270.05,345.23 L270.32,344.59 L270.58,343.94 L270.85,343.28 L271.11,342.63 L271.37,341.98 L271.63,341.33 L271.88,340.68 L272.14,340.02 L272.39,339.37 L272.64,338.71 L272.89,338.06 L273.14,337.40 L273.39,336.75 L273.64,336.09 L273.88,335.43 L274.13,334.77 L274.37,334.12 L274.61,333.46 L274.85,332.80 L275.10,332.14 L275.34,331.49 L275.58,330.83 L275.82,330.17 L276.05,329.51 L276.29,328.85 L276.53,328.19 L276.77,327.54 L277.01,326.88 L277.24,326.22 L277.48,325.56 L277.72,324.90 L277.96,324.24 L278.20,323.59 L278.43,322.93 L278.67,322.27 L278.91,321.61 L279.15,320.96 L279.39,320.30 L279.63,319.64 L279.87,318.99 L280.12,318.33 L280.36,317.68 L280.60,317.02 L280.85,316.36 L281.09,315.71 L281.34,315.06 L281.59,314.40 L281.83,313.75 L282.08,313.09 L282.33,312.44 L282.58,311.78 L282.83,311.13 L283.08,310.48 L283.33,309.82 L283.58,309.17 L283.83,308.52 L284.08,307.86 L284.33,307.21 L284.58,306.56 L284.83,305.90 L285.08,305.25 L285.33,304.60 L285.58,303.94 L285.83,303.29 L286.09,302.64 L286.34,301.98 L286.59,301.33 L286.84,300.68 L287.09,300.02 L287.34,299.37 L287.59,298.71 L287.84,298.06 L288.09,297.41 L288.34,296.75 L288.59,296.10 L288.84,295.44 L289.08,294.79 L289.33,294.13 L289.58,293.47 L289.82,292.82 L290.07,292.16 L290.31,291.50 L290.56,290.85 L290.80,290.19 L291.04,289.53 L291.28,288.87 L291.52,288.21 L291.76,287.56 L292.00,286.90 L292.24,286.24 L292.47,285.58 L292.71,284.92 L292.94,284.25 L293.18,283.59 L293.41,282.93 L293.64,282.27 L293.87,281.60 L294.09,280.94 L294.32,280.28 L294.55,279.61 L294.77,278.95 L294.99,278.28 L295.21,277.62 L295.43,276.95 L295.65,276.29 L295.87,275.62 L296.09,274.95 L296.31,274.29 L296.52,273.62 L296.74,272.95 L296.95,272.29 L297.17,271.62 L297.39,270.96 L297.60,270.29 L297.82,269.62 L298.03,268.96 L298.25,268.29 L298.47,267.63 L298.68,266.96 L298.90,266.30 L299.12,265.64 L299.34,264.97 L299.56,264.31 L299.78,263.65 L300.00,262.98 L300.22,262.32 L300.45,261.66 L300.67,261.00 L300.90,260.34 L301.13,259.68 L301.36,259.02 L301.59,258.36 L301.83,257.70 L302.06,257.05 L302.30,256.39 L302.54,255.74 L302.78,255.08 L303.03,254.43 L303.27,253.78 L303.52,253.13 L303.77,252.48 L304.03,251.83 L304.29,251.18 L304.55,250.53 L304.81,249.89 L305.08,249.25 L305.35,248.60 L305.62,247.96 L305.89,247.32 L306.17,246.68 L306.46,246.05 L306.74,245.41 L307.03,244.78 L307.33,244.15 L307.62,243.52 L307.93,242.90 L308.24,242.27 L308.55,241.65 L308.87,241.04 L309.20,240.42 L309.53,239.81 L309.87,239.21 L310.21,238.61 L310.56,238.01 L310.92,237.41 L311.29,236.82 L311.66,236.24 L312.04,235.66 L312.43,235.09 L312.83,234.52 L313.24,233.96 L313.66,233.41 L314.08,232.86 L314.52,232.32 L314.96,231.79 L315.42,231.27 L315.88,230.75 L316.36,230.25 L316.85,229.75 L317.34,229.27 L317.85,228.80 L318.37,228.34 L318.90,227.89 L319.43,227.45 L319.98,227.02 L320.54,226.61 L321.11,226.21 L321.68,225.81 L322.26,225.43 L322.85,225.05 L323.44,224.68 L324.04,224.32 L324.64,223.96 L325.24,223.61 L325.85,223.27 L326.46,222.92 L327.07,222.58 L327.68,222.24 L328.29,221.90 L328.90,221.56 L329.51,221.21 L330.12,220.87 L330.73,220.52 L331.34,220.17 L331.94,219.82 L332.55,219.46 L333.15,219.09 L333.74,218.72 L334.33,218.34 L334.92,217.95 L335.50,217.56 L336.08,217.17 L336.66,216.77 L337.24,216.38 L337.81,215.98 L338.39,215.59 L338.98,215.21 L339.56,214.83 L340.16,214.47 L340.75,214.11 L341.36,213.77 L341.97,213.44 L342.59,213.13 L343.23,212.84 L343.87,212.57 L344.52,212.32 L345.18,212.10 L345.84,211.90 L346.52,211.73 L347.20,211.59 L347.89,211.48 L348.58,211.40 L349.28,211.35 L349.98,211.34 L350.68,211.36 L351.38,211.43 L352.07,211.54 L352.76,211.68 L353.44,211.88 L354.11,212.11 L354.76,212.38 L355.40,212.70 L356.02,213.04 L356.62,213.41 L357.21,213.81 L357.77,214.23 L358.33,214.68 L358.87,215.14 L359.39,215.62 L359.90,216.12 L360.39,216.62 L360.87,217.14 L361.34,217.67 L361.80,218.21 L362.24,218.76 L362.68,219.32 L363.11,219.88 L363.52,220.45 L363.93,221.03 L364.33,221.61 L364.72,222.20 L365.11,222.79 L365.49,223.39 L365.86,223.99 L366.22,224.59 L366.58,225.20 L366.93,225.81 L367.27,226.43 L367.61,227.04 L367.94,227.67 L368.27,228.29 L368.59,228.92 L368.91,229.55 L369.22,230.18 L369.53,230.81 L369.83,231.45 L370.13,232.09 L370.42,232.73 L370.71,233.37 L371.00,234.01 L371.29,234.65 L371.57,235.29 L371.85,235.93 L372.13,236.58 L372.41,237.22 L372.69,237.86 L372.97,238.50 L373.25,239.15 L373.52,239.79 L373.80,240.43 L374.07,241.08 L374.35,241.72 L374.62,242.37 L374.90,243.01 L375.17,243.66 L375.44,244.30 L375.71,244.95 L375.98,245.60 L376.25,246.25 L376.52,246.89 L376.79,247.54 L377.05,248.19 L377.32,248.84 L377.58,249.49 L377.85,250.14 L378.11,250.79 L378.37,251.44 L378.63,252.09 L378.89,252.74 L379.15,253.40 L379.40,254.05 L379.66,254.70 L379.91,255.36 L380.16,256.01 L380.41,256.67 L380.66,257.32 L380.91,257.98 L381.15,258.64 L381.40,259.29 L381.64,259.95 L381.88,260.61 L382.12,261.27 L382.36,261.93 L382.59,262.59 L382.83,263.26 L383.06,263.92 L383.29,264.58 L383.52,265.25 L383.75,265.91 L383.97,266.58 L384.20,267.24 L384.42,267.91 L384.64,268.58 L384.85,269.24 L385.07,269.91 L385.29,270.58 L385.50,271.24 L385.71,271.91 L385.93,272.58 L386.14,273.25 L386.35,273.92 L386.56,274.58 L386.77,275.25 L386.98,275.92 L387.20,276.58 L387.41,277.25 L387.62,277.91 L387.84,278.58 L388.05,279.24 L388.27,279.91 L388.49,280.57 L388.70,281.23 L388.93,281.90 L389.15,282.56 L389.37,283.22 L389.60,283.88 L389.83,284.53 L390.06,285.19 L390.30,285.85 L390.54,286.50 L390.78,287.15 L391.02,287.81 L391.27,288.46 L391.52,289.11 L391.77,289.75 L392.03,290.40 L392.30,291.04 L392.56,291.69 L392.83,292.33 L393.11,292.96 L393.39,293.60 L393.68,294.23 L393.97,294.87 L394.26,295.49 L394.56,296.12 L394.87,296.74 L395.18,297.36 L395.50,297.98 L395.83,298.59 L396.16,299.19 L396.51,299.79 L396.86,300.39 L397.23,300.98 L397.60,301.56 L397.99,302.13 L398.38,302.69 L398.79,303.25 L399.22,303.80 L399.65,304.33 L400.10,304.86 L400.56,305.37 L401.04,305.87 L401.53,306.35 L402.04,306.82 L402.56,307.28 L403.09,307.73 L403.63,308.16 L404.18,308.59 L404.74,309.01 L405.30,309.42 L405.87,309.83 L406.43,310.24 L407.00,310.65 L407.57,311.07 L408.13,311.48 L408.69,311.91 L409.25,312.34 L409.80,312.78 L410.34,313.23 L410.87,313.69 L411.40,314.16 L411.92,314.64 L412.43,315.12 L412.93,315.61 L413.43,316.11 L413.92,316.62 L414.40,317.13 L414.88,317.65 L415.35,318.18 L415.81,318.71 L416.26,319.25 L416.71,319.80 L417.15,320.34 L417.59,320.90 L418.01,321.46 L418.44,322.02 L418.85,322.59 L419.26,323.16 L419.67,323.74 L420.07,324.32 L420.46,324.90 L420.85,325.49 L421.24,326.08 L421.62,326.67 L421.99,327.26 L422.36,327.86 L422.73,328.46 L423.09,329.06 L423.45,329.67 L423.81,330.28 L424.16,330.88 L424.51,331.49 L424.85,332.11 L425.19,332.72 L425.53,333.33 L425.87,333.95 L426.20,334.57 L426.54,335.19 L426.87,335.81 L427.19,336.43 L427.52,337.05 L427.84,337.67 L428.16,338.30 L428.48,338.92 L428.80,339.55 L429.11,340.17 L429.43,340.80 L429.74,341.43 L430.05,342.06 L430.36,342.69 L430.67,343.32 L430.97,343.95 L431.28,344.58 L431.58,345.21 L431.88,345.85 L432.18,346.48 L432.48,347.11 L432.78,347.75 L433.08,348.38 L433.38,349.02 L433.67,349.65 L433.97,350.29 L434.26,350.92 L434.56,351.56 L434.85,352.20 L435.14,352.83 L435.44,353.47 L435.73,354.10 L436.02,354.74 L436.31,355.38 L436.61,356.01 L436.90,356.65 L437.19,357.28 L437.48,357.92 L437.78,358.56 L438.07,359.19 L438.36,359.83 L438.66,360.46 L438.95,361.10 L439.24,361.73 L439.54,362.36 L439.84,363.00 L440.13,363.63 L440.43,364.26 L440.73,364.89 L441.03,365.53 L441.33,366.16 L441.63,366.79 L441.93,367.42 L442.24,368.05 L442.54,368.68 L442.85,369.30 L443.16,369.93 L443.47,370.56 L443.78,371.18 L444.09,371.81 L444.41,372.43 L444.72,373.05 L445.04,373.67 L445.36,374.29 L445.69,374.91 L446.01,375.53 L446.34,376.14 L446.67,376.75 L447.01,377.37 L447.34,377.98 L447.68,378.59 L448.03,379.19 L448.37,379.80 L448.72,380.40 L449.08,381.00 L449.43,381.60 L449.79,382.20 L450.16,382.79 L450.52,383.38 L450.90,383.97 L451.27,384.56 L451.65,385.14 L452.04,385.72 L452.43,386.30 L452.82,386.88 L453.22,387.45 L453.62,388.02 L454.03,388.58 L454.44,389.14 L454.86,389.70 L455.28,390.25 L455.71,390.80 L456.15,391.34 L456.59,391.88 L457.03,392.41 L457.49,392.94 L457.94,393.47 L458.41,393.99 L458.88,394.50 L459.35,395.01 L459.83,395.51 L460.32,396.00 L460.82,396.49 L461.32,396.98 L461.83,397.45 L462.34,397.92 L462.86,398.38 L463.39,398.83 L463.93,399.28 L464.47,399.72 L465.02,400.15 L465.57,400.57 L466.13,400.98 L466.70,401.38 L467.28,401.77 L467.86,402.16 L468.45,402.53 L469.04,402.89 L469.64,403.25 L470.25,403.59 L470.86,403.92 L471.48,404.24 L472.10,404.55 L472.73,404.85 L473.37,405.14 L474.01,405.41 L474.66,405.68 L475.30,405.94 L475.96,406.18 L476.62,406.42 L477.28,406.64 L477.94,406.86 L478.61,407.07 L479.28,407.27 L479.95,407.46 L480.62,407.64 L481.30,407.82 L481.98,407.99 L482.66,408.15 L483.34,408.30 L484.02,408.45 L484.71,408.59 L485.40,408.72 L486.08,408.85 L486.77,408.97 L487.46,409.08 L488.15,409.19 L488.85,409.29 L489.54,409.39 L490.23,409.48 L490.93,409.57 L491.62,409.65 L492.32,409.73 L493.01,409.80 L493.71,409.87 L494.41,409.94 L495.10,410.00 L495.80,410.05 L496.50,410.10 L497.20,410.15 L497.90,410.20 L498.59,410.24 L499.29,410.28 L499.99,410.32 L500.69,410.37 L501.39,410.43 L502.08,410.51 L502.78,410.60 L503.47,410.69 L504.17,410.79 L504.86,410.89 L505.55,410.99 L506.25,411.09 L506.94,411.18 L507.63,411.27 L508.33,411.35 L509.02,411.43 L509.72,411.51 L510.42,411.58 L511.11,411.66 L511.81,411.74 L512.50,411.82 L513.20,411.90 L513.89,411.97 L514.59,412.05 L515.28,412.13 L515.98,412.22 L516.67,412.30 L517.37,412.38 L518.07,412.46 L518.76,412.54 L519.46,412.62 L520.15,412.69 L520.85,412.76 L521.54,412.83 L522.24,412.91 L522.94,412.98 L523.63,413.05 L524.33,413.12 L525.03,413.18 L525.72,413.25 L526.42,413.32 L527.12,413.39 L527.81,413.46 L528.51,413.53 L529.21,413.60 L529.90,413.67 L530.60,413.74 L531.30,413.82 L531.99,413.89 L532.69,413.97 L533.38,414.04 L534.08,414.12 L534.78,414.19 L535.47,414.26 L536.17,414.33 L536.87,414.39 L537.56,414.45 L538.26,414.50 L538.96,414.56 L539.66,414.61 L540.35,414.66 L541.05,414.71 L541.75,414.76 L542.45,414.81 L543.15,414.85 L543.85,414.89 L544.00,414.90" fill="none" stroke="#ff0000" stroke-width="2.2" stroke-linejoin="round"/>
<path d="M166.90,414.90 L167.60,414.84 L168.30,414.78 L168.99,414.72 L169.69,414.64 L170.39,414.57 L171.08,414.48 L171.78,414.40 L172.47,414.31 L173.16,414.22 L173.86,414.12 L174.55,414.02 L175.24,413.91 L175.93,413.79 L176.62,413.67 L177.31,413.54 L178.00,413.41 L178.69,413.27 L179.37,413.13 L180.06,412.99 L180.74,412.84 L181.43,412.69 L182.11,412.54 L182.79,412.38 L183.47,412.21 L184.15,412.05 L184.83,411.89 L185.52,411.73 L186.20,411.55 L186.87,411.37 L187.55,411.18 L188.22,410.98 L188.89,410.76 L189.55,410.54 L190.21,410.31 L190.87,410.06 L191.53,409.81 L192.18,409.54 L192.82,409.27 L193.46,408.98 L194.10,408.68 L194.73,408.37 L195.36,408.05 L195.98,407.72 L196.59,407.37 L197.20,407.02 L197.80,406.65 L198.39,406.27 L198.97,405.88 L199.55,405.47 L200.12,405.05 L200.67,404.62 L201.22,404.17 L201.76,403.71 L202.28,403.23 L202.79,402.74 L203.29,402.24 L203.78,401.73 L204.25,401.20 L204.71,400.66 L205.16,400.11 L205.60,399.56 L206.02,398.99 L206.44,398.41 L206.84,397.83 L207.23,397.24 L207.61,396.64 L207.98,396.04 L208.34,395.43 L208.69,394.82 L209.04,394.20 L209.37,393.57 L209.70,392.95 L210.02,392.32 L210.33,391.68 L210.63,391.05 L210.93,390.41 L211.23,389.77 L211.52,389.12 L211.80,388.48 L212.08,387.83 L212.36,387.18 L212.63,386.54 L212.90,385.88 L213.16,385.23 L213.42,384.58 L213.68,383.92 L213.93,383.26 L214.18,382.61 L214.42,381.95 L214.67,381.29 L214.91,380.62 L215.14,379.96 L215.37,379.30 L215.60,378.63 L215.83,377.97 L216.05,377.30 L216.27,376.63 L216.49,375.96 L216.71,375.29 L216.92,374.62 L217.13,373.95 L217.34,373.28 L217.55,372.61 L217.75,371.94 L217.95,371.26 L218.15,370.59 L218.35,369.91 L218.54,369.24 L218.74,368.56 L218.93,367.89 L219.12,367.21 L219.31,366.54 L219.49,365.86 L219.68,365.18 L219.86,364.51 L220.05,363.83 L220.23,363.15 L220.41,362.47 L220.59,361.80 L220.77,361.12 L220.95,360.44 L221.13,359.76 L221.31,359.09 L221.48,358.41 L221.66,357.73 L221.83,357.05 L222.01,356.37 L222.19,355.70 L222.36,355.02 L222.54,354.34 L222.71,353.66 L222.89,352.99 L223.07,352.31 L223.24,351.63 L223.42,350.96 L223.60,350.28 L223.78,349.60 L223.95,348.93 L224.13,348.25 L224.31,347.58 L224.49,346.90 L224.67,346.23 L224.86,345.55 L225.04,344.88 L225.22,344.20 L225.40,343.53 L225.59,342.85 L225.77,342.18 L225.96,341.50 L226.14,340.83 L226.33,340.15 L226.51,339.48 L226.70,338.80 L226.88,338.13 L227.07,337.45 L227.26,336.78 L227.44,336.11 L227.63,335.43 L227.82,334.76 L228.01,334.08 L228.19,333.41 L228.38,332.74 L228.57,332.06 L228.76,331.39 L228.95,330.71 L229.14,330.04 L229.33,329.37 L229.51,328.69 L229.70,328.02 L229.89,327.34 L230.08,326.67 L230.27,326.00 L230.46,325.32 L230.65,324.65 L230.84,323.97 L231.03,323.30 L231.22,322.63 L231.40,321.95 L231.59,321.28 L231.78,320.60 L231.97,319.93 L232.16,319.25 L232.35,318.58 L232.53,317.90 L232.72,317.23 L232.91,316.55 L233.09,315.88 L233.28,315.20 L233.47,314.53 L233.65,313.85 L233.84,313.18 L234.02,312.50 L234.21,311.83 L234.39,311.15 L234.58,310.48 L234.76,309.80 L234.95,309.12 L235.13,308.45 L235.31,307.77 L235.49,307.09 L235.67,306.42 L235.85,305.74 L236.03,305.06 L236.21,304.38 L236.39,303.71 L236.57,303.03 L236.75,302.35 L236.93,301.67 L237.10,300.99 L237.28,300.32 L237.45,299.64 L237.63,298.96 L237.80,298.28 L237.97,297.60 L238.15,296.92 L238.32,296.24 L238.49,295.56 L238.66,294.88 L238.83,294.20 L238.99,293.52 L239.16,292.84 L239.33,292.16 L239.49,291.47 L239.66,290.79 L239.82,290.11 L239.98,289.43 L240.14,288.74 L240.30,288.06 L240.46,287.38 L240.62,286.69 L240.78,286.01 L240.93,285.33 L241.09,284.64 L241.24,283.96 L241.39,283.27 L241.54,282.59 L241.69,281.90 L241.84,281.21 L241.99,280.53 L242.14,279.84 L242.28,279.15 L242.42,278.47 L242.57,277.78 L242.71,277.09 L242.85,276.40 L242.99,275.72 L243.12,275.03 L243.26,274.34 L243.39,273.65 L243.53,272.96 L243.66,272.27 L243.79,271.58 L243.91,270.89 L244.04,270.20 L244.17,269.50 L244.29,268.81 L244.41,268.12 L244.53,267.43 L244.65,266.74 L244.77,266.04 L244.88,265.35 L245.00,264.66 L245.11,263.96 L245.22,263.27 L245.33,262.58 L245.44,261.88 L245.55,261.19 L245.66,260.50 L245.76,259.80 L245.87,259.11 L245.97,258.41 L246.07,257.72 L246.17,257.03 L246.28,256.33 L246.37,255.64 L246.47,254.94 L246.57,254.25 L246.67,253.55 L246.76,252.86 L246.86,252.16 L246.95,251.47 L247.05,250.77 L247.14,250.08 L247.23,249.38 L247.33,248.69 L247.42,247.99 L247.51,247.30 L247.60,246.60 L247.69,245.91 L247.78,245.21 L247.87,244.52 L247.96,243.83 L248.05,243.13 L248.14,242.44 L248.23,241.74 L248.31,241.05 L248.40,240.35 L248.49,239.66 L248.58,238.96 L248.67,238.27 L248.76,237.57 L248.84,236.88 L248.93,236.19 L249.02,235.49 L249.11,234.80 L249.20,234.10 L249.29,233.41 L249.38,232.72 L249.47,232.02 L249.56,231.33 L249.65,230.64 L249.74,229.94 L249.83,229.25 L249.92,228.56 L250.02,227.86 L250.11,227.17 L250.20,226.48 L250.30,225.79 L250.39,225.09 L250.49,224.40 L250.58,223.71 L250.68,223.02 L250.78,222.33 L250.88,221.63 L250.98,220.94 L251.08,220.25 L251.18,219.56 L251.28,218.87 L251.38,218.18 L251.49,217.49 L251.59,216.80 L251.70,216.10 L251.80,215.41 L251.91,214.72 L252.01,214.03 L252.12,213.34 L252.23,212.65 L252.33,211.96 L252.44,211.27 L252.55,210.58 L252.66,209.89 L252.77,209.20 L252.88,208.51 L252.99,207.82 L253.11,207.13 L253.22,206.44 L253.33,205.75 L253.44,205.06 L253.56,204.37 L253.67,203.68 L253.79,202.99 L253.90,202.30 L254.02,201.61 L254.13,200.92 L254.25,200.23 L254.37,199.54 L254.48,198.85 L254.60,198.16 L254.72,197.47 L254.84,196.78 L254.95,196.09 L255.07,195.40 L255.19,194.71 L255.31,194.02 L255.43,193.34 L255.55,192.65 L255.67,191.96 L255.79,191.27 L255.91,190.58 L256.03,189.89 L256.15,189.20 L256.28,188.51 L256.40,187.82 L256.52,187.13 L256.64,186.44 L256.76,185.76 L256.89,185.07 L257.01,184.38 L257.13,183.69 L257.25,183.00 L257.38,182.31 L257.50,181.62 L257.62,180.93 L257.75,180.24 L257.87,179.56 L257.99,178.87 L258.12,178.18 L258.24,177.49 L258.36,176.80 L258.49,176.11 L258.61,175.42 L258.73,174.73 L258.86,174.04 L258.98,173.35 L259.11,172.67 L259.23,171.98 L259.35,171.29 L259.48,170.60 L259.60,169.91 L259.72,169.22 L259.85,168.53 L259.97,167.84 L260.10,167.15 L260.22,166.47 L260.34,165.78 L260.47,165.09 L260.59,164.40 L260.72,163.71 L260.84,163.02 L260.96,162.33 L261.09,161.64 L261.21,160.95 L261.34,160.27 L261.46,159.58 L261.59,158.89 L261.71,158.20 L261.83,157.51 L261.96,156.82 L262.08,156.13 L262.21,155.44 L262.33,154.76 L262.46,154.07 L262.58,153.38 L262.71,152.69 L262.83,152.00 L262.96,151.31 L263.08,150.62 L263.21,149.93 L263.33,149.25 L263.46,148.56 L263.58,147.87 L263.71,147.18 L263.83,146.49 L263.96,145.80 L264.08,145.11 L264.21,144.43 L264.33,143.74 L264.46,143.05 L264.58,142.36 L264.71,141.67 L264.83,140.98 L264.96,140.29 L265.09,139.61 L265.21,138.92 L265.34,138.23 L265.46,137.54 L265.59,136.85 L265.72,136.16 L265.84,135.47 L265.97,134.79 L266.09,134.10 L266.22,133.41 L266.35,132.72 L266.47,132.03 L266.60,131.34 L266.73,130.66 L266.85,129.97 L266.98,129.28 L267.11,128.59 L267.23,127.90 L267.36,127.21 L267.49,126.53 L267.61,125.84 L267.74,125.15 L267.87,124.46 L268.00,123.77 L268.12,123.09 L268.25,122.40 L268.38,121.71 L268.51,121.02 L268.63,120.33 L268.76,119.64 L268.89,118.96 L269.02,118.27 L269.15,117.58 L269.28,116.89 L269.40,116.20 L269.53,115.52 L269.66,114.83 L269.79,114.14 L269.92,113.45 L270.05,112.77 L270.18,112.08 L270.30,111.39 L270.43,110.70 L270.56,110.01 L270.69,109.33 L270.82,108.64 L270.95,107.95 L271.08,107.26 L271.21,106.57 L271.34,105.89 L271.47,105.20 L271.60,104.51 L271.73,103.82 L271.86,103.14 L271.99,102.45 L272.12,101.76 L272.25,101.06 L272.38,100.43 L272.54,99.79 L272.73,99.16 L272.95,98.50 L273.17,97.80 L273.36,97.08 L273.52,96.38 L273.67,95.68 L273.82,94.99 L273.96,94.30 L274.10,93.62 L274.24,92.93 L274.38,92.25 L274.53,91.57 L274.68,90.90 L274.84,90.24 L275.01,89.58 L275.19,88.91 L275.38,88.24 L275.57,87.57 L275.76,86.91 L275.97,86.25 L276.18,85.60 L276.40,84.95 L276.63,84.31 L276.89,83.69 L277.16,83.05 L277.45,82.43 L277.74,81.81 L278.06,81.20 L278.39,80.60 L278.74,80.02 L279.11,79.46 L279.52,78.92 L279.96,78.40 L280.43,77.91 L280.93,77.43 L281.44,76.97 L281.96,76.50 L282.48,76.02 L282.98,75.52 L283.48,75.03 L283.98,74.54 L284.48,74.06 L284.99,73.57 L285.49,73.09 L286.00,72.61 L286.50,72.10 L286.98,71.59 L287.47,71.10 L287.97,70.63 L288.50,70.22 L289.09,69.88 L289.69,69.53 L290.31,69.25 L290.97,69.10 L291.67,69.18 L292.34,69.45 L292.97,69.81 L293.55,70.22 L294.07,70.83 L294.46,71.47 L294.81,72.10 L295.13,72.74 L295.43,73.39 L295.71,74.08 L295.95,74.76 L296.18,75.44 L296.39,76.12 L296.59,76.79 L296.80,77.46 L297.00,78.13 L297.20,78.81 L297.39,79.49 L297.58,80.18 L297.76,80.86 L297.94,81.54 L298.11,82.23 L298.28,82.91 L298.45,83.60 L298.61,84.29 L298.77,84.97 L298.92,85.66 L299.07,86.35 L299.21,87.04 L299.36,87.74 L299.50,88.43 L299.63,89.12 L299.76,89.81 L299.89,90.52 L300.01,91.22 L300.13,91.92 L300.24,92.61 L300.35,93.30 L300.45,93.99 L300.56,94.68 L300.68,95.36 L300.79,96.04 L300.92,96.71 L301.06,97.36 L301.23,98.01 L301.41,98.70 L301.57,99.42 L301.71,100.15 L301.83,100.95 L301.91,101.64 L302.00,102.33 L302.08,103.03 L302.17,103.72 L302.25,104.42 L302.34,105.11 L302.42,105.81 L302.51,106.50 L302.59,107.20 L302.68,107.89 L302.77,108.58 L302.85,109.28 L302.94,109.97 L303.02,110.67 L303.11,111.36 L303.20,112.06 L303.28,112.75 L303.37,113.45 L303.46,114.14 L303.54,114.83 L303.63,115.53 L303.72,116.22 L303.80,116.92 L303.89,117.61 L303.98,118.31 L304.07,119.00 L304.15,119.70 L304.24,120.39 L304.33,121.08 L304.42,121.78 L304.50,122.47 L304.59,123.17 L304.68,123.86 L304.77,124.56 L304.86,125.25 L304.95,125.94 L305.03,126.64 L305.12,127.33 L305.21,128.03 L305.30,128.72 L305.39,129.41 L305.48,130.11 L305.57,130.80 L305.66,131.50 L305.74,132.19 L305.83,132.89 L305.92,133.58 L306.01,134.27 L306.10,134.97 L306.19,135.66 L306.28,136.36 L306.37,137.05 L306.46,137.74 L306.55,138.44 L306.64,139.13 L306.73,139.83 L306.82,140.52 L306.91,141.21 L307.01,141.91 L307.10,142.60 L307.19,143.30 L307.28,143.99 L307.37,144.68 L307.46,145.38 L307.55,146.07 L307.64,146.76 L307.74,147.46 L307.83,148.15 L307.92,148.85 L308.01,149.54 L308.10,150.23 L308.20,150.93 L308.29,151.62 L308.38,152.31 L308.47,153.01 L308.57,153.70 L308.66,154.39 L308.75,155.09 L308.84,155.78 L308.94,156.48 L309.03,157.17 L309.12,157.86 L309.22,158.56 L309.31,159.25 L309.41,159.94 L309.50,160.64 L309.59,161.33 L309.69,162.02 L309.78,162.72 L309.88,163.41 L309.97,164.10 L310.07,164.80 L310.16,165.49 L310.26,166.18 L310.35,166.88 L310.45,167.57 L310.54,168.26 L310.64,168.96 L310.73,169.65 L310.83,170.34 L310.92,171.04 L311.02,171.73 L311.12,172.42 L311.21,173.12 L311.31,173.81 L311.41,174.50 L311.50,175.19 L311.60,175.89 L311.70,176.58 L311.79,177.27 L311.89,177.97 L311.99,178.66 L312.09,179.35 L312.18,180.04 L312.28,180.74 L312.38,181.43 L312.48,182.12 L312.58,182.82 L312.67,183.51 L312.77,184.20 L312.87,184.89 L312.97,185.59 L313.07,186.28 L313.17,186.97 L313.27,187.67 L313.37,188.36 L313.47,189.05 L313.57,189.74 L313.67,190.44 L313.77,191.13 L313.87,191.82 L313.97,192.51 L314.07,193.21 L314.17,193.90 L314.27,194.59 L314.37,195.28 L314.47,195.98 L314.57,196.67 L314.67,197.36 L314.78,198.05 L314.88,198.74 L314.98,199.44 L315.08,200.13 L315.18,200.82 L315.29,201.51 L315.39,202.21 L315.49,202.90 L315.59,203.59 L315.70,204.28 L315.80,204.97 L315.90,205.67 L316.01,206.36 L316.11,207.05 L316.21,207.74 L316.32,208.43 L316.42,209.13 L316.53,209.82 L316.63,210.51 L316.73,211.20 L316.84,211.89 L316.94,212.59 L317.05,213.28 L317.15,213.97 L317.26,214.66 L317.37,215.35 L317.47,216.04 L317.58,216.74 L317.68,217.43 L317.79,218.12 L317.90,218.81 L318.00,219.50 L318.11,220.19 L318.22,220.89 L318.32,221.58 L318.43,222.27 L318.54,222.96 L318.65,223.65 L318.75,224.34 L318.86,225.03 L318.97,225.72 L319.08,226.42 L319.19,227.11 L319.30,227.80 L319.40,228.49 L319.51,229.18 L319.62,229.87 L319.73,230.56 L319.84,231.25 L319.95,231.95 L320.06,232.64 L320.17,233.33 L320.28,234.02 L320.39,234.71 L320.50,235.40 L320.61,236.09 L320.72,236.78 L320.84,237.47 L320.95,238.16 L321.06,238.85 L321.17,239.54 L321.28,240.24 L321.40,240.93 L321.51,241.62 L321.62,242.31 L321.73,243.00 L321.85,243.69 L321.96,244.38 L322.07,245.07 L322.19,245.76 L322.30,246.45 L322.41,247.14 L322.53,247.83 L322.64,248.52 L322.76,249.21 L322.87,249.90 L322.99,250.59 L323.10,251.28 L323.22,251.97 L323.33,252.66 L323.45,253.35 L323.56,254.04 L323.68,254.73 L323.79,255.42 L323.91,256.11 L324.03,256.80 L324.14,257.49 L324.26,258.18 L324.38,258.87 L324.50,259.56 L324.61,260.25 L324.73,260.94 L324.85,261.63 L324.97,262.32 L325.09,263.01 L325.20,263.70 L325.32,264.39 L325.44,265.08 L325.56,265.77 L325.68,266.46 L325.80,267.15 L325.92,267.83 L326.04,268.52 L326.16,269.21 L326.28,269.90 L326.40,270.59 L326.52,271.28 L326.64,271.97 L326.77,272.66 L326.89,273.35 L327.01,274.04 L327.13,274.73 L327.25,275.41 L327.38,276.10 L327.50,276.79 L327.62,277.48 L327.74,278.17 L327.87,278.86 L327.99,279.55 L328.11,280.24 L328.24,280.92 L328.36,281.61 L328.49,282.30 L328.61,282.99 L328.74,283.68 L328.86,284.37 L328.99,285.05 L329.11,285.74 L329.24,286.43 L329.36,287.12 L329.49,287.81 L329.62,288.50 L329.74,289.18 L329.87,289.87 L330.00,290.56 L330.12,291.25 L330.25,291.94 L330.38,292.62 L330.51,293.31 L330.63,294.00 L330.76,294.69 L330.89,295.37 L331.02,296.06 L331.15,296.75 L331.28,297.44 L331.41,298.12 L331.54,298.81 L331.67,299.50 L331.80,300.19 L331.93,300.87 L332.06,301.56 L332.19,302.25 L332.32,302.94 L332.45,303.62 L332.58,304.31 L332.72,305.00 L332.85,305.68 L332.98,306.37 L333.11,307.06 L333.25,307.75 L333.38,308.43 L333.51,309.12 L333.65,309.81 L333.78,310.49 L333.91,311.18 L334.05,311.87 L334.18,312.55 L334.32,313.24 L334.45,313.93 L334.59,314.61 L334.72,315.30 L334.86,315.98 L334.99,316.67 L335.13,317.36 L335.27,318.04 L335.40,318.73 L335.54,319.42 L335.68,320.10 L335.81,320.79 L335.95,321.47 L336.09,322.16 L336.23,322.85 L336.37,323.53 L336.51,324.22 L336.64,324.90 L336.78,325.59 L336.92,326.27 L337.06,326.96 L337.20,327.64 L337.34,328.33 L337.48,329.02 L337.62,329.70 L337.76,330.39 L337.91,331.07 L338.05,331.76 L338.19,332.44 L338.33,333.13 L338.47,333.81 L338.62,334.50 L338.76,335.18 L338.90,335.87 L339.04,336.55 L339.19,337.24 L339.33,337.92 L339.48,338.60 L339.62,339.29 L339.76,339.97 L339.91,340.66 L340.05,341.34 L340.20,342.03 L340.35,342.71 L340.49,343.39 L340.64,344.08 L340.78,344.76 L340.93,345.45 L341.08,346.13 L341.23,346.82 L341.37,347.50 L341.52,348.18 L341.67,348.87 L341.82,349.55 L341.97,350.23 L342.11,350.92 L342.26,351.60 L342.41,352.28 L342.56,352.97 L342.71,353.65 L342.86,354.33 L343.01,355.02 L343.16,355.70 L343.31,356.38 L343.47,357.07 L343.62,357.75 L343.77,358.43 L343.92,359.12 L344.07,359.80 L344.23,360.48 L344.38,361.16 L344.53,361.85 L344.69,362.53 L344.84,363.21 L344.99,363.89 L345.15,364.58 L345.30,365.26 L345.46,365.94 L345.61,366.62 L345.77,367.30 L345.92,367.99 L346.08,368.67 L346.24,369.35 L346.39,370.03 L346.55,370.71 L346.71,371.40 L346.86,372.08 L347.02,372.76 L347.18,373.44 L347.34,374.12 L347.50,374.80 L347.66,375.48 L347.82,376.17 L347.98,376.85 L348.13,377.52 L348.31,378.18 L348.50,378.84 L348.69,379.51 L348.90,380.17 L349.11,380.83 L349.32,381.48 L349.55,382.14 L349.77,382.80 L350.00,383.47 L350.22,384.13 L350.44,384.80 L350.66,385.46 L350.88,386.12 L351.11,386.77 L351.35,387.42 L351.59,388.07 L351.84,388.72 L352.09,389.36 L352.36,390.00 L352.63,390.63 L352.92,391.26 L353.22,391.88 L353.52,392.49 L353.84,393.10 L354.18,393.71 L354.52,394.30 L354.88,394.89 L355.26,395.46 L355.65,396.03 L356.06,396.58 L356.48,397.12 L356.92,397.65 L357.38,398.16 L357.86,398.66 L358.35,399.14 L358.87,399.60 L359.40,400.04 L359.94,400.47 L360.50,400.88 L361.07,401.26 L361.66,401.63 L362.26,401.98 L362.87,402.31 L363.49,402.63 L364.12,402.94 L364.75,403.23 L365.39,403.51 L366.03,403.78 L366.68,404.04 L367.33,404.29 L367.99,404.53 L368.64,404.78 L369.30,405.01 L369.96,405.25 L370.62,405.49 L371.28,405.72 L371.94,405.96 L372.60,406.19 L373.25,406.43 L373.91,406.66 L374.57,406.90 L375.23,407.13 L375.89,407.36 L376.56,407.59 L377.22,407.82 L377.88,408.04 L378.54,408.26 L379.21,408.48 L379.87,408.70 L380.54,408.91 L381.21,409.12 L381.87,409.33 L382.54,409.53 L383.22,409.73 L383.89,409.92 L384.56,410.10 L385.24,410.28 L385.91,410.46 L386.59,410.63 L387.27,410.79 L387.95,410.95 L388.64,411.10 L389.32,411.24 L390.01,411.38 L390.69,411.51 L391.38,411.63 L392.07,411.74 L392.77,411.84 L393.46,411.95 L394.15,412.07 L394.84,412.20 L395.53,412.33 L396.21,412.46 L396.90,412.60 L397.59,412.72 L398.28,412.83 L398.97,412.93 L399.66,413.02 L400.36,413.10 L401.05,413.18 L401.75,413.25 L402.45,413.32 L403.14,413.39 L403.84,413.45 L404.54,413.52 L405.23,413.58 L405.93,413.65 L406.63,413.71 L407.32,413.77 L408.02,413.84 L408.72,413.91 L409.41,413.98 L410.11,414.05 L410.81,414.11 L411.51,414.18 L412.20,414.25 L412.90,414.32 L413.60,414.38 L414.29,414.45 L414.99,414.51 L415.69,414.58 L415.90,414.60" fill="none" stroke="#ffff00" stroke-width="2.08" stroke-linejoin="round"/>
</g>
<g class="t11"><text x="174.8" y="438.2" text-anchor="middle" letter-spacing="-0.45">1800</text><text x="277.8" y="438.2" text-anchor="middle" letter-spacing="-0.45">2000</text><text x="381.3" y="438.2" text-anchor="middle" letter-spacing="-0.45">2200</text><text x="484.9" y="438.2" text-anchor="middle" letter-spacing="-0.45">2400</text><text x="76.6" y="104.0" text-anchor="end">0.006</text><text x="76.6" y="157.0" text-anchor="end">0.005</text><text x="76.6" y="209.0" text-anchor="end">0.004</text><text x="76.6" y="262.0" text-anchor="end">0.003</text><text x="77.5" y="315.0" text-anchor="end">0.002</text><text x="76.6" y="367.0" text-anchor="end">0.001</text><text x="76.6" y="420.0" text-anchor="end">0.000</text></g>
<text class="t12" x="327.5" y="458.8" text-anchor="middle">Simulated Performances</text>
<text class="t12" transform="translate(30.4,235.4) rotate(-90)" text-anchor="middle" letter-spacing="-0.15">Density</text>
<rect x="29.6" y="24.4" width="29.8" height="10.9" fill="#808080" stroke="#e8e830" stroke-width="1.1" stroke-linejoin="round"/>
<rect x="385.4" y="24.4" width="31" height="10.9" fill="#ffffff" stroke="#ff6a6a" stroke-width="1.15" stroke-linejoin="round"/>
<g class="t11"><text x="70.8" y="35.2">Mont-de-Marsan Simulated Performances</text>
<text x="428.2" y="35.2">Dax Simulated Performances</text></g>
</svg>
</body></html>
